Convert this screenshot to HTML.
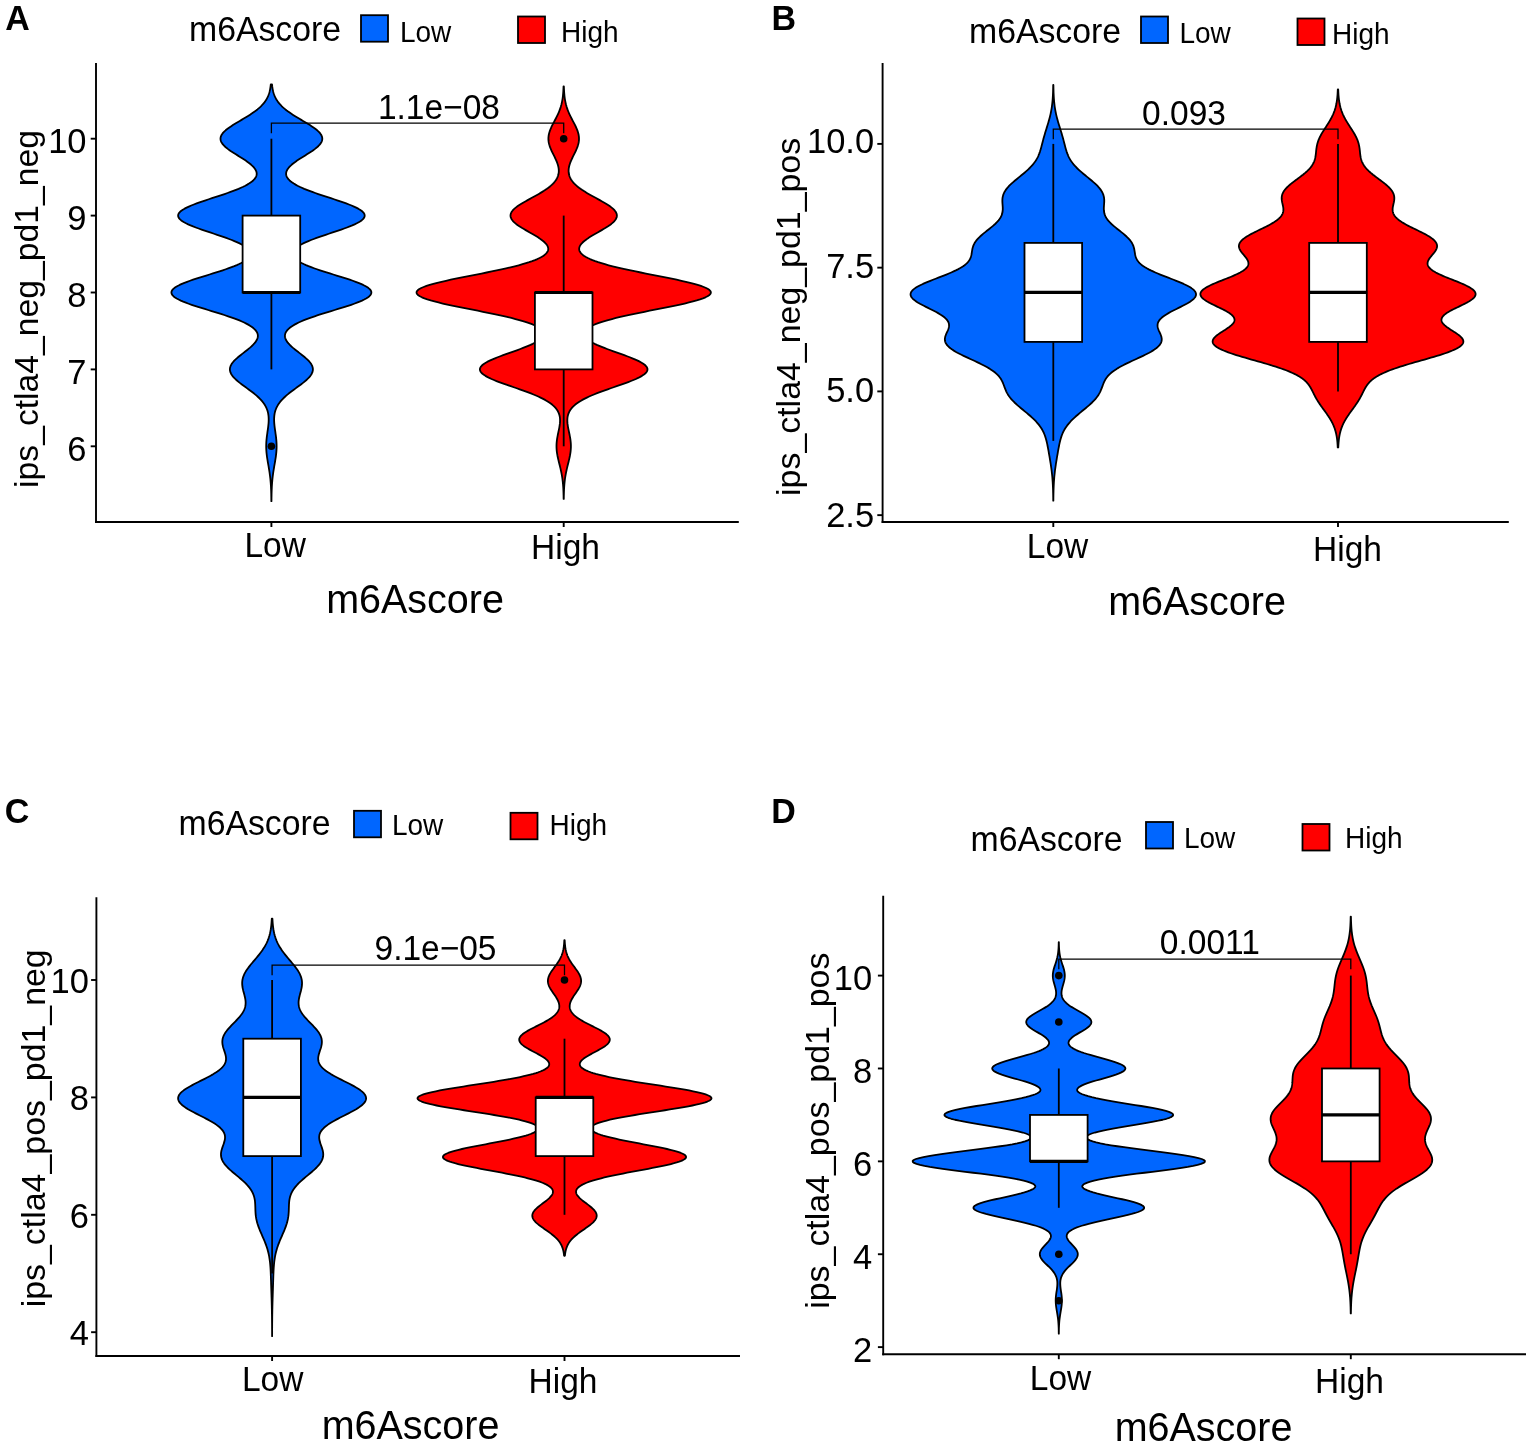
<!DOCTYPE html>
<html><head><meta charset="utf-8"><title>m6Ascore violin plots</title>
<style>
html,body{margin:0;padding:0;background:#fff;}
body{width:1535px;height:1449px;overflow:hidden;}
svg{display:block;font-family:'Liberation Sans', sans-serif;fill:#000;}
</style></head><body>
<svg width="1535" height="1449" viewBox="0 0 1535 1449">
<rect x="0" y="0" width="1535" height="1449" fill="#ffffff"/>
<path d="M271.34,501.19 L271.33,500.15 L271.32,499.10 L271.31,498.06 L271.29,497.01 L271.27,495.97 L271.25,494.92 L271.23,493.88 L271.20,492.83 L271.17,491.79 L271.13,490.74 L271.10,489.70 L271.05,488.65 L271.00,487.61 L270.95,486.56 L270.89,485.52 L270.82,484.48 L270.75,483.43 L270.67,482.39 L270.58,481.34 L270.49,480.30 L270.39,479.25 L270.28,478.21 L270.16,477.16 L270.04,476.12 L269.91,475.07 L269.77,474.03 L269.62,472.98 L269.47,471.94 L269.31,470.89 L269.15,469.85 L268.98,468.80 L268.80,467.76 L268.63,466.72 L268.45,465.67 L268.27,464.63 L268.09,463.58 L267.91,462.54 L267.73,461.49 L267.56,460.45 L267.39,459.40 L267.23,458.36 L267.07,457.31 L266.93,456.27 L266.79,455.22 L266.67,454.18 L266.56,453.13 L266.46,452.09 L266.38,451.04 L266.31,450.00 L266.26,448.96 L266.22,447.91 L266.20,446.87 L266.20,445.82 L266.22,444.78 L266.25,443.73 L266.29,442.69 L266.36,441.64 L266.43,440.60 L266.52,439.55 L266.63,438.51 L266.74,437.46 L266.87,436.42 L267.00,435.37 L267.14,434.33 L267.29,433.28 L267.43,432.24 L267.58,431.19 L267.73,430.15 L267.88,429.11 L268.02,428.06 L268.15,427.02 L268.28,425.97 L268.39,424.93 L268.49,423.88 L268.57,422.84 L268.63,421.79 L268.67,420.75 L268.69,419.70 L268.68,418.66 L268.64,417.61 L268.57,416.57 L268.46,415.52 L268.32,414.48 L268.14,413.43 L267.91,412.39 L267.64,411.35 L267.32,410.30 L266.94,409.26 L266.52,408.21 L266.03,407.17 L265.49,406.12 L264.89,405.08 L264.23,404.03 L263.50,402.99 L262.71,401.94 L261.85,400.90 L260.93,399.85 L259.94,398.81 L258.89,397.76 L257.78,396.72 L256.61,395.67 L255.39,394.63 L254.12,393.58 L252.80,392.54 L251.45,391.50 L250.06,390.45 L248.65,389.41 L247.22,388.36 L245.78,387.32 L244.35,386.27 L242.93,385.23 L241.53,384.18 L240.16,383.14 L238.84,382.09 L237.57,381.05 L236.37,380.00 L235.24,378.96 L234.20,377.91 L233.25,376.87 L232.41,375.82 L231.68,374.78 L231.06,373.74 L230.58,372.69 L230.22,371.65 L229.99,370.60 L229.90,369.56 L229.95,368.51 L230.13,367.47 L230.44,366.42 L230.88,365.38 L231.44,364.33 L232.13,363.29 L232.93,362.24 L233.83,361.20 L234.82,360.15 L235.90,359.11 L237.06,358.06 L238.27,357.02 L239.54,355.97 L240.85,354.93 L242.18,353.89 L243.53,352.84 L244.88,351.80 L246.22,350.75 L247.54,349.71 L248.82,348.66 L250.06,347.62 L251.24,346.57 L252.36,345.53 L253.39,344.48 L254.35,343.44 L255.20,342.39 L255.96,341.35 L256.59,340.30 L257.11,339.26 L257.50,338.21 L257.75,337.17 L257.87,336.13 L257.83,335.08 L257.64,334.04 L257.29,332.99 L256.77,331.95 L256.08,330.90 L255.22,329.86 L254.19,328.81 L252.97,327.77 L251.58,326.72 L250.00,325.68 L248.24,324.63 L246.30,323.59 L244.18,322.54 L241.89,321.50 L239.44,320.45 L236.82,319.41 L234.05,318.36 L231.15,317.32 L228.11,316.28 L224.96,315.23 L221.72,314.19 L218.40,313.14 L215.02,312.10 L211.60,311.05 L208.16,310.01 L204.74,308.96 L201.35,307.92 L198.02,306.87 L194.78,305.83 L191.65,304.78 L188.67,303.74 L185.84,302.69 L183.21,301.65 L180.80,300.60 L178.62,299.56 L176.69,298.52 L175.05,297.47 L173.69,296.43 L172.64,295.38 L171.91,294.34 L171.50,293.29 L171.41,292.25 L171.65,291.20 L172.22,290.16 L173.10,289.11 L174.30,288.07 L175.79,287.02 L177.56,285.98 L179.61,284.93 L181.89,283.89 L184.41,282.84 L187.12,281.80 L190.01,280.75 L193.05,279.71 L196.21,278.67 L199.47,277.62 L202.80,276.58 L206.17,275.53 L209.55,274.49 L212.92,273.44 L216.26,272.40 L219.54,271.35 L222.73,270.31 L225.82,269.26 L228.80,268.22 L231.63,267.17 L234.30,266.13 L236.81,265.08 L239.13,264.04 L241.26,262.99 L243.19,261.95 L244.90,260.91 L246.40,259.86 L247.67,258.82 L248.71,257.77 L249.52,256.73 L250.10,255.68 L250.44,254.64 L250.54,253.59 L250.41,252.55 L250.04,251.50 L249.43,250.46 L248.60,249.41 L247.54,248.37 L246.26,247.32 L244.77,246.28 L243.07,245.23 L241.17,244.19 L239.07,243.14 L236.80,242.10 L234.37,241.06 L231.78,240.01 L229.05,238.97 L226.21,237.92 L223.26,236.88 L220.23,235.83 L217.14,234.79 L214.01,233.74 L210.87,232.70 L207.73,231.65 L204.63,230.61 L201.59,229.56 L198.63,228.52 L195.79,227.47 L193.08,226.43 L190.53,225.38 L188.16,224.34 L186.00,223.30 L184.07,222.25 L182.38,221.21 L180.96,220.16 L179.81,219.12 L178.95,218.07 L178.38,217.03 L178.12,215.98 L178.16,214.94 L178.51,213.89 L179.16,212.85 L180.10,211.80 L181.33,210.76 L182.83,209.71 L184.59,208.67 L186.60,207.62 L188.82,206.58 L191.25,205.53 L193.86,204.49 L196.63,203.45 L199.52,202.40 L202.53,201.36 L205.62,200.31 L208.77,199.27 L211.95,198.22 L215.14,197.18 L218.32,196.13 L221.46,195.09 L224.55,194.04 L227.56,193.00 L230.49,191.95 L233.30,190.91 L235.99,189.86 L238.55,188.82 L240.96,187.77 L243.22,186.73 L245.31,185.69 L247.24,184.64 L248.99,183.60 L250.56,182.55 L251.96,181.51 L253.17,180.46 L254.21,179.42 L255.06,178.37 L255.73,177.33 L256.23,176.28 L256.55,175.24 L256.70,174.19 L256.68,173.15 L256.51,172.10 L256.17,171.06 L255.68,170.01 L255.05,168.97 L254.28,167.92 L253.38,166.88 L252.36,165.84 L251.22,164.79 L249.98,163.75 L248.64,162.70 L247.21,161.66 L245.71,160.61 L244.15,159.57 L242.54,158.52 L240.89,157.48 L239.22,156.43 L237.54,155.39 L235.86,154.34 L234.21,153.30 L232.58,152.25 L231.01,151.21 L229.50,150.16 L228.07,149.12 L226.72,148.08 L225.48,147.03 L224.36,145.99 L223.36,144.94 L222.50,143.90 L221.78,142.85 L221.22,141.81 L220.82,140.76 L220.58,139.72 L220.50,138.67 L220.59,137.63 L220.85,136.58 L221.27,135.54 L221.85,134.49 L222.58,133.45 L223.46,132.40 L224.47,131.36 L225.62,130.31 L226.89,129.27 L228.26,128.23 L229.73,127.18 L231.27,126.14 L232.89,125.09 L234.57,124.05 L236.28,123.00 L238.03,121.96 L239.79,120.91 L241.56,119.87 L243.32,118.82 L245.07,117.78 L246.79,116.73 L248.47,115.69 L250.10,114.64 L251.69,113.60 L253.21,112.55 L254.68,111.51 L256.07,110.47 L257.40,109.42 L258.65,108.38 L259.83,107.33 L260.93,106.29 L261.96,105.24 L262.92,104.20 L263.81,103.15 L264.62,102.11 L265.37,101.06 L266.05,100.02 L266.67,98.97 L267.23,97.93 L267.74,96.88 L268.20,95.84 L268.60,94.79 L268.97,93.75 L269.29,92.70 L269.58,91.66 L269.83,90.62 L270.06,89.57 L270.25,88.53 L270.42,87.48 L270.57,86.44 L270.69,85.39 L270.80,84.35 L272.00,84.35 L272.11,85.39 L272.23,86.44 L272.38,87.48 L272.55,88.53 L272.74,89.57 L272.97,90.62 L273.22,91.66 L273.51,92.70 L273.83,93.75 L274.20,94.79 L274.60,95.84 L275.06,96.88 L275.57,97.93 L276.13,98.97 L276.75,100.02 L277.43,101.06 L278.18,102.11 L278.99,103.15 L279.88,104.20 L280.84,105.24 L281.87,106.29 L282.97,107.33 L284.15,108.38 L285.40,109.42 L286.73,110.47 L288.12,111.51 L289.59,112.55 L291.11,113.60 L292.70,114.64 L294.33,115.69 L296.01,116.73 L297.73,117.78 L299.48,118.82 L301.24,119.87 L303.01,120.91 L304.77,121.96 L306.52,123.00 L308.23,124.05 L309.91,125.09 L311.53,126.14 L313.07,127.18 L314.54,128.23 L315.91,129.27 L317.18,130.31 L318.33,131.36 L319.34,132.40 L320.22,133.45 L320.95,134.49 L321.53,135.54 L321.95,136.58 L322.21,137.63 L322.30,138.67 L322.22,139.72 L321.98,140.76 L321.58,141.81 L321.02,142.85 L320.30,143.90 L319.44,144.94 L318.44,145.99 L317.32,147.03 L316.08,148.08 L314.73,149.12 L313.30,150.16 L311.79,151.21 L310.22,152.25 L308.59,153.30 L306.94,154.34 L305.26,155.39 L303.58,156.43 L301.91,157.48 L300.26,158.52 L298.65,159.57 L297.09,160.61 L295.59,161.66 L294.16,162.70 L292.82,163.75 L291.58,164.79 L290.44,165.84 L289.42,166.88 L288.52,167.92 L287.75,168.97 L287.12,170.01 L286.63,171.06 L286.29,172.10 L286.12,173.15 L286.10,174.19 L286.25,175.24 L286.57,176.28 L287.07,177.33 L287.74,178.37 L288.59,179.42 L289.63,180.46 L290.84,181.51 L292.24,182.55 L293.81,183.60 L295.56,184.64 L297.49,185.69 L299.58,186.73 L301.84,187.77 L304.25,188.82 L306.81,189.86 L309.50,190.91 L312.31,191.95 L315.24,193.00 L318.25,194.04 L321.34,195.09 L324.48,196.13 L327.66,197.18 L330.85,198.22 L334.03,199.27 L337.18,200.31 L340.27,201.36 L343.28,202.40 L346.17,203.45 L348.94,204.49 L351.55,205.53 L353.98,206.58 L356.20,207.62 L358.21,208.67 L359.97,209.71 L361.47,210.76 L362.70,211.80 L363.64,212.85 L364.29,213.89 L364.64,214.94 L364.68,215.98 L364.42,217.03 L363.85,218.07 L362.99,219.12 L361.84,220.16 L360.42,221.21 L358.73,222.25 L356.80,223.30 L354.64,224.34 L352.27,225.38 L349.72,226.43 L347.01,227.47 L344.17,228.52 L341.21,229.56 L338.17,230.61 L335.07,231.65 L331.93,232.70 L328.79,233.74 L325.66,234.79 L322.57,235.83 L319.54,236.88 L316.59,237.92 L313.75,238.97 L311.02,240.01 L308.43,241.06 L306.00,242.10 L303.73,243.14 L301.63,244.19 L299.73,245.23 L298.03,246.28 L296.54,247.32 L295.26,248.37 L294.20,249.41 L293.37,250.46 L292.76,251.50 L292.39,252.55 L292.26,253.59 L292.36,254.64 L292.70,255.68 L293.28,256.73 L294.09,257.77 L295.13,258.82 L296.40,259.86 L297.90,260.91 L299.61,261.95 L301.54,262.99 L303.67,264.04 L305.99,265.08 L308.50,266.13 L311.17,267.17 L314.00,268.22 L316.98,269.26 L320.07,270.31 L323.26,271.35 L326.54,272.40 L329.88,273.44 L333.25,274.49 L336.63,275.53 L340.00,276.58 L343.33,277.62 L346.59,278.67 L349.75,279.71 L352.79,280.75 L355.68,281.80 L358.39,282.84 L360.91,283.89 L363.19,284.93 L365.24,285.98 L367.01,287.02 L368.50,288.07 L369.70,289.11 L370.58,290.16 L371.15,291.20 L371.39,292.25 L371.30,293.29 L370.89,294.34 L370.16,295.38 L369.11,296.43 L367.75,297.47 L366.11,298.52 L364.18,299.56 L362.00,300.60 L359.59,301.65 L356.96,302.69 L354.13,303.74 L351.15,304.78 L348.02,305.83 L344.78,306.87 L341.45,307.92 L338.06,308.96 L334.64,310.01 L331.20,311.05 L327.78,312.10 L324.40,313.14 L321.08,314.19 L317.84,315.23 L314.69,316.28 L311.65,317.32 L308.75,318.36 L305.98,319.41 L303.36,320.45 L300.91,321.50 L298.62,322.54 L296.50,323.59 L294.56,324.63 L292.80,325.68 L291.22,326.72 L289.83,327.77 L288.61,328.81 L287.58,329.86 L286.72,330.90 L286.03,331.95 L285.51,332.99 L285.16,334.04 L284.97,335.08 L284.93,336.13 L285.05,337.17 L285.30,338.21 L285.69,339.26 L286.21,340.30 L286.84,341.35 L287.60,342.39 L288.45,343.44 L289.41,344.48 L290.44,345.53 L291.56,346.57 L292.74,347.62 L293.98,348.66 L295.26,349.71 L296.58,350.75 L297.92,351.80 L299.27,352.84 L300.62,353.89 L301.95,354.93 L303.26,355.97 L304.53,357.02 L305.74,358.06 L306.90,359.11 L307.98,360.15 L308.97,361.20 L309.87,362.24 L310.67,363.29 L311.36,364.33 L311.92,365.38 L312.36,366.42 L312.67,367.47 L312.85,368.51 L312.90,369.56 L312.81,370.60 L312.58,371.65 L312.22,372.69 L311.74,373.74 L311.12,374.78 L310.39,375.82 L309.55,376.87 L308.60,377.91 L307.56,378.96 L306.43,380.00 L305.23,381.05 L303.96,382.09 L302.64,383.14 L301.27,384.18 L299.87,385.23 L298.45,386.27 L297.02,387.32 L295.58,388.36 L294.15,389.41 L292.74,390.45 L291.35,391.50 L290.00,392.54 L288.68,393.58 L287.41,394.63 L286.19,395.67 L285.02,396.72 L283.91,397.76 L282.86,398.81 L281.87,399.85 L280.95,400.90 L280.09,401.94 L279.30,402.99 L278.57,404.03 L277.91,405.08 L277.31,406.12 L276.77,407.17 L276.28,408.21 L275.86,409.26 L275.48,410.30 L275.16,411.35 L274.89,412.39 L274.66,413.43 L274.48,414.48 L274.34,415.52 L274.23,416.57 L274.16,417.61 L274.12,418.66 L274.11,419.70 L274.13,420.75 L274.17,421.79 L274.23,422.84 L274.31,423.88 L274.41,424.93 L274.52,425.97 L274.65,427.02 L274.78,428.06 L274.92,429.11 L275.07,430.15 L275.22,431.19 L275.37,432.24 L275.51,433.28 L275.66,434.33 L275.80,435.37 L275.93,436.42 L276.06,437.46 L276.17,438.51 L276.28,439.55 L276.37,440.60 L276.44,441.64 L276.51,442.69 L276.55,443.73 L276.58,444.78 L276.60,445.82 L276.60,446.87 L276.58,447.91 L276.54,448.96 L276.49,450.00 L276.42,451.04 L276.34,452.09 L276.24,453.13 L276.13,454.18 L276.01,455.22 L275.87,456.27 L275.73,457.31 L275.57,458.36 L275.41,459.40 L275.24,460.45 L275.07,461.49 L274.89,462.54 L274.71,463.58 L274.53,464.63 L274.35,465.67 L274.17,466.72 L274.00,467.76 L273.82,468.80 L273.65,469.85 L273.49,470.89 L273.33,471.94 L273.18,472.98 L273.03,474.03 L272.89,475.07 L272.76,476.12 L272.64,477.16 L272.52,478.21 L272.41,479.25 L272.31,480.30 L272.22,481.34 L272.13,482.39 L272.05,483.43 L271.98,484.48 L271.91,485.52 L271.85,486.56 L271.80,487.61 L271.75,488.65 L271.70,489.70 L271.67,490.74 L271.63,491.79 L271.60,492.83 L271.57,493.88 L271.55,494.92 L271.53,495.97 L271.51,497.01 L271.49,498.06 L271.48,499.10 L271.47,500.15 L271.46,501.19Z" fill="#0066ff" stroke="#000" stroke-width="1.8" stroke-linejoin="round"/>
<path d="M563.62,498.88 L563.60,497.85 L563.59,496.82 L563.57,495.78 L563.54,494.75 L563.51,493.72 L563.48,492.68 L563.45,491.65 L563.40,490.61 L563.36,489.58 L563.31,488.55 L563.25,487.51 L563.18,486.48 L563.10,485.45 L563.02,484.41 L562.93,483.38 L562.83,482.34 L562.72,481.31 L562.60,480.28 L562.47,479.24 L562.33,478.21 L562.17,477.18 L562.01,476.14 L561.83,475.11 L561.65,474.07 L561.45,473.04 L561.24,472.01 L561.03,470.97 L560.80,469.94 L560.57,468.91 L560.32,467.87 L560.08,466.84 L559.82,465.80 L559.57,464.77 L559.31,463.74 L559.06,462.70 L558.80,461.67 L558.55,460.64 L558.30,459.60 L558.07,458.57 L557.84,457.53 L557.63,456.50 L557.42,455.47 L557.24,454.43 L557.07,453.40 L556.92,452.37 L556.79,451.33 L556.69,450.30 L556.61,449.26 L556.55,448.23 L556.51,447.20 L556.50,446.16 L556.51,445.13 L556.55,444.10 L556.61,443.06 L556.70,442.03 L556.81,440.99 L556.94,439.96 L557.08,438.93 L557.25,437.89 L557.43,436.86 L557.62,435.83 L557.82,434.79 L558.03,433.76 L558.25,432.73 L558.46,431.69 L558.68,430.66 L558.89,429.62 L559.10,428.59 L559.30,427.56 L559.48,426.52 L559.64,425.49 L559.78,424.46 L559.90,423.42 L559.99,422.39 L560.05,421.35 L560.06,420.32 L560.04,419.29 L559.97,418.25 L559.85,417.22 L559.67,416.19 L559.43,415.15 L559.12,414.12 L558.74,413.08 L558.28,412.05 L557.74,411.02 L557.11,409.98 L556.37,408.95 L555.54,407.92 L554.60,406.88 L553.54,405.85 L552.37,404.81 L551.07,403.78 L549.64,402.75 L548.08,401.71 L546.39,400.68 L544.57,399.65 L542.61,398.61 L540.52,397.58 L538.29,396.54 L535.95,395.51 L533.48,394.48 L530.90,393.44 L528.22,392.41 L525.45,391.38 L522.60,390.34 L519.69,389.31 L516.73,388.27 L513.75,387.24 L510.75,386.21 L507.78,385.17 L504.84,384.14 L501.96,383.11 L499.16,382.07 L496.47,381.04 L493.91,380.00 L491.50,378.97 L489.27,377.94 L487.24,376.90 L485.42,375.87 L483.84,374.84 L482.51,373.80 L481.44,372.77 L480.64,371.73 L480.13,370.70 L479.91,369.67 L479.98,368.63 L480.34,367.60 L480.98,366.57 L481.90,365.53 L483.09,364.50 L484.54,363.46 L486.22,362.43 L488.13,361.40 L490.25,360.36 L492.55,359.33 L495.01,358.30 L497.60,357.26 L500.31,356.23 L503.11,355.19 L505.96,354.16 L508.86,353.13 L511.77,352.09 L514.66,351.06 L517.52,350.03 L520.32,348.99 L523.04,347.96 L525.66,346.92 L528.17,345.89 L530.54,344.86 L532.76,343.82 L534.81,342.79 L536.68,341.76 L538.36,340.72 L539.83,339.69 L541.09,338.66 L542.12,337.62 L542.92,336.59 L543.48,335.55 L543.79,334.52 L543.84,333.49 L543.63,332.45 L543.15,331.42 L542.40,330.39 L541.36,329.35 L540.05,328.32 L538.45,327.28 L536.56,326.25 L534.39,325.22 L531.92,324.18 L529.18,323.15 L526.15,322.12 L522.84,321.08 L519.27,320.05 L515.44,319.01 L511.36,317.98 L507.06,316.95 L502.55,315.91 L497.85,314.88 L492.99,313.85 L488.00,312.81 L482.90,311.78 L477.73,310.74 L472.53,309.71 L467.32,308.68 L462.16,307.64 L457.08,306.61 L452.13,305.58 L447.34,304.54 L442.77,303.51 L438.44,302.47 L434.41,301.44 L430.70,300.41 L427.37,299.37 L424.43,298.34 L421.92,297.31 L419.86,296.27 L418.28,295.24 L417.19,294.20 L416.61,293.17 L416.53,292.14 L416.97,291.10 L417.91,290.07 L419.34,289.04 L421.26,288.00 L423.64,286.97 L426.46,285.93 L429.68,284.90 L433.28,283.87 L437.23,282.83 L441.48,281.80 L445.99,280.77 L450.72,279.73 L455.64,278.70 L460.70,277.66 L465.85,276.63 L471.06,275.60 L476.29,274.56 L481.50,273.53 L486.65,272.50 L491.71,271.46 L496.65,270.43 L501.45,269.39 L506.07,268.36 L510.50,267.33 L514.72,266.29 L518.71,265.26 L522.46,264.23 L525.96,263.19 L529.20,262.16 L532.19,261.12 L534.91,260.09 L537.36,259.06 L539.56,258.02 L541.49,256.99 L543.17,255.96 L544.59,254.92 L545.77,253.89 L546.72,252.85 L547.43,251.82 L547.91,250.79 L548.19,249.75 L548.25,248.72 L548.12,247.69 L547.80,246.65 L547.29,245.62 L546.62,244.59 L545.79,243.55 L544.80,242.52 L543.68,241.48 L542.42,240.45 L541.05,239.42 L539.58,238.38 L538.01,237.35 L536.37,236.32 L534.66,235.28 L532.90,234.25 L531.10,233.21 L529.29,232.18 L527.48,231.15 L525.68,230.11 L523.91,229.08 L522.18,228.05 L520.53,227.01 L518.95,225.98 L517.46,224.94 L516.09,223.91 L514.84,222.88 L513.73,221.84 L512.77,220.81 L511.97,219.78 L511.34,218.74 L510.88,217.71 L510.60,216.67 L510.50,215.64 L510.59,214.61 L510.86,213.57 L511.31,212.54 L511.94,211.51 L512.73,210.47 L513.69,209.44 L514.80,208.40 L516.05,207.37 L517.43,206.34 L518.92,205.30 L520.52,204.27 L522.20,203.24 L523.96,202.20 L525.77,201.17 L527.62,200.13 L529.50,199.10 L531.39,198.07 L533.28,197.03 L535.15,196.00 L537.00,194.97 L538.81,193.93 L540.57,192.90 L542.27,191.86 L543.91,190.83 L545.47,189.80 L546.96,188.76 L548.36,187.73 L549.67,186.70 L550.90,185.66 L552.03,184.63 L553.07,183.59 L554.02,182.56 L554.88,181.53 L555.64,180.49 L556.32,179.46 L556.91,178.43 L557.41,177.39 L557.83,176.36 L558.17,175.32 L558.44,174.29 L558.63,173.26 L558.75,172.22 L558.80,171.19 L558.79,170.16 L558.72,169.12 L558.59,168.09 L558.41,167.05 L558.18,166.02 L557.90,164.99 L557.58,163.95 L557.23,162.92 L556.83,161.89 L556.41,160.85 L555.96,159.82 L555.48,158.79 L554.99,157.75 L554.49,156.72 L553.98,155.68 L553.46,154.65 L552.95,153.62 L552.44,152.58 L551.94,151.55 L551.46,150.52 L551.00,149.48 L550.56,148.45 L550.15,147.41 L549.78,146.38 L549.45,145.35 L549.15,144.31 L548.91,143.28 L548.70,142.25 L548.55,141.21 L548.45,140.18 L548.40,139.14 L548.41,138.11 L548.47,137.08 L548.58,136.04 L548.74,135.01 L548.95,133.98 L549.21,132.94 L549.51,131.91 L549.85,130.87 L550.24,129.84 L550.65,128.81 L551.10,127.77 L551.58,126.74 L552.08,125.71 L552.59,124.67 L553.12,123.64 L553.66,122.60 L554.21,121.57 L554.76,120.54 L555.30,119.50 L555.84,118.47 L556.37,117.44 L556.89,116.40 L557.39,115.37 L557.88,114.33 L558.34,113.30 L558.79,112.27 L559.22,111.23 L559.62,110.20 L560.00,109.17 L560.35,108.13 L560.69,107.10 L560.99,106.06 L561.28,105.03 L561.54,104.00 L561.78,102.96 L562.00,101.93 L562.20,100.90 L562.38,99.86 L562.55,98.83 L562.69,97.79 L562.82,96.76 L562.94,95.73 L563.04,94.69 L563.14,93.66 L563.22,92.63 L563.29,91.59 L563.35,90.56 L563.40,89.52 L563.45,88.49 L563.49,87.46 L563.52,86.42 L563.88,86.42 L563.91,87.46 L563.95,88.49 L564.00,89.52 L564.05,90.56 L564.11,91.59 L564.18,92.63 L564.26,93.66 L564.36,94.69 L564.46,95.73 L564.58,96.76 L564.71,97.79 L564.85,98.83 L565.02,99.86 L565.20,100.90 L565.40,101.93 L565.62,102.96 L565.86,104.00 L566.12,105.03 L566.41,106.06 L566.71,107.10 L567.05,108.13 L567.40,109.17 L567.78,110.20 L568.18,111.23 L568.61,112.27 L569.06,113.30 L569.52,114.33 L570.01,115.37 L570.51,116.40 L571.03,117.44 L571.56,118.47 L572.10,119.50 L572.64,120.54 L573.19,121.57 L573.74,122.60 L574.28,123.64 L574.81,124.67 L575.32,125.71 L575.82,126.74 L576.30,127.77 L576.75,128.81 L577.16,129.84 L577.55,130.87 L577.89,131.91 L578.19,132.94 L578.45,133.98 L578.66,135.01 L578.82,136.04 L578.93,137.08 L578.99,138.11 L579.00,139.14 L578.95,140.18 L578.85,141.21 L578.70,142.25 L578.49,143.28 L578.25,144.31 L577.95,145.35 L577.62,146.38 L577.25,147.41 L576.84,148.45 L576.40,149.48 L575.94,150.52 L575.46,151.55 L574.96,152.58 L574.45,153.62 L573.94,154.65 L573.42,155.68 L572.91,156.72 L572.41,157.75 L571.92,158.79 L571.44,159.82 L570.99,160.85 L570.57,161.89 L570.17,162.92 L569.82,163.95 L569.50,164.99 L569.22,166.02 L568.99,167.05 L568.81,168.09 L568.68,169.12 L568.61,170.16 L568.60,171.19 L568.65,172.22 L568.77,173.26 L568.96,174.29 L569.23,175.32 L569.57,176.36 L569.99,177.39 L570.49,178.43 L571.08,179.46 L571.76,180.49 L572.52,181.53 L573.38,182.56 L574.33,183.59 L575.37,184.63 L576.50,185.66 L577.73,186.70 L579.04,187.73 L580.44,188.76 L581.93,189.80 L583.49,190.83 L585.13,191.86 L586.83,192.90 L588.59,193.93 L590.40,194.97 L592.25,196.00 L594.12,197.03 L596.01,198.07 L597.90,199.10 L599.78,200.13 L601.63,201.17 L603.44,202.20 L605.20,203.24 L606.88,204.27 L608.48,205.30 L609.97,206.34 L611.35,207.37 L612.60,208.40 L613.71,209.44 L614.67,210.47 L615.46,211.51 L616.09,212.54 L616.54,213.57 L616.81,214.61 L616.90,215.64 L616.80,216.67 L616.52,217.71 L616.06,218.74 L615.43,219.78 L614.63,220.81 L613.67,221.84 L612.56,222.88 L611.31,223.91 L609.94,224.94 L608.45,225.98 L606.87,227.01 L605.22,228.05 L603.49,229.08 L601.72,230.11 L599.92,231.15 L598.11,232.18 L596.30,233.21 L594.50,234.25 L592.74,235.28 L591.03,236.32 L589.39,237.35 L587.82,238.38 L586.35,239.42 L584.98,240.45 L583.72,241.48 L582.60,242.52 L581.61,243.55 L580.78,244.59 L580.11,245.62 L579.60,246.65 L579.28,247.69 L579.15,248.72 L579.21,249.75 L579.49,250.79 L579.97,251.82 L580.68,252.85 L581.63,253.89 L582.81,254.92 L584.23,255.96 L585.91,256.99 L587.84,258.02 L590.04,259.06 L592.49,260.09 L595.21,261.12 L598.20,262.16 L601.44,263.19 L604.94,264.23 L608.69,265.26 L612.68,266.29 L616.90,267.33 L621.33,268.36 L625.95,269.39 L630.75,270.43 L635.69,271.46 L640.75,272.50 L645.90,273.53 L651.11,274.56 L656.34,275.60 L661.55,276.63 L666.70,277.66 L671.76,278.70 L676.68,279.73 L681.41,280.77 L685.92,281.80 L690.17,282.83 L694.12,283.87 L697.72,284.90 L700.94,285.93 L703.76,286.97 L706.14,288.00 L708.06,289.04 L709.49,290.07 L710.43,291.10 L710.87,292.14 L710.79,293.17 L710.21,294.20 L709.12,295.24 L707.54,296.27 L705.48,297.31 L702.97,298.34 L700.03,299.37 L696.70,300.41 L692.99,301.44 L688.96,302.47 L684.63,303.51 L680.06,304.54 L675.27,305.58 L670.32,306.61 L665.24,307.64 L660.08,308.68 L654.87,309.71 L649.67,310.74 L644.50,311.78 L639.40,312.81 L634.41,313.85 L629.55,314.88 L624.85,315.91 L620.34,316.95 L616.04,317.98 L611.96,319.01 L608.13,320.05 L604.56,321.08 L601.25,322.12 L598.22,323.15 L595.48,324.18 L593.01,325.22 L590.84,326.25 L588.95,327.28 L587.35,328.32 L586.04,329.35 L585.00,330.39 L584.25,331.42 L583.77,332.45 L583.56,333.49 L583.61,334.52 L583.92,335.55 L584.48,336.59 L585.28,337.62 L586.31,338.66 L587.57,339.69 L589.04,340.72 L590.72,341.76 L592.59,342.79 L594.64,343.82 L596.86,344.86 L599.23,345.89 L601.74,346.92 L604.36,347.96 L607.08,348.99 L609.88,350.03 L612.74,351.06 L615.63,352.09 L618.54,353.13 L621.44,354.16 L624.29,355.19 L627.09,356.23 L629.80,357.26 L632.39,358.30 L634.85,359.33 L637.15,360.36 L639.27,361.40 L641.18,362.43 L642.86,363.46 L644.31,364.50 L645.50,365.53 L646.42,366.57 L647.06,367.60 L647.42,368.63 L647.49,369.67 L647.27,370.70 L646.76,371.73 L645.96,372.77 L644.89,373.80 L643.56,374.84 L641.98,375.87 L640.16,376.90 L638.13,377.94 L635.90,378.97 L633.49,380.00 L630.93,381.04 L628.24,382.07 L625.44,383.11 L622.56,384.14 L619.62,385.17 L616.65,386.21 L613.65,387.24 L610.67,388.27 L607.71,389.31 L604.80,390.34 L601.95,391.38 L599.18,392.41 L596.50,393.44 L593.92,394.48 L591.45,395.51 L589.11,396.54 L586.88,397.58 L584.79,398.61 L582.83,399.65 L581.01,400.68 L579.32,401.71 L577.76,402.75 L576.33,403.78 L575.03,404.81 L573.86,405.85 L572.80,406.88 L571.86,407.92 L571.03,408.95 L570.29,409.98 L569.66,411.02 L569.12,412.05 L568.66,413.08 L568.28,414.12 L567.97,415.15 L567.73,416.19 L567.55,417.22 L567.43,418.25 L567.36,419.29 L567.34,420.32 L567.35,421.35 L567.41,422.39 L567.50,423.42 L567.62,424.46 L567.76,425.49 L567.92,426.52 L568.10,427.56 L568.30,428.59 L568.51,429.62 L568.72,430.66 L568.94,431.69 L569.15,432.73 L569.37,433.76 L569.58,434.79 L569.78,435.83 L569.97,436.86 L570.15,437.89 L570.32,438.93 L570.46,439.96 L570.59,440.99 L570.70,442.03 L570.79,443.06 L570.85,444.10 L570.89,445.13 L570.90,446.16 L570.89,447.20 L570.85,448.23 L570.79,449.26 L570.71,450.30 L570.61,451.33 L570.48,452.37 L570.33,453.40 L570.16,454.43 L569.98,455.47 L569.77,456.50 L569.56,457.53 L569.33,458.57 L569.10,459.60 L568.85,460.64 L568.60,461.67 L568.34,462.70 L568.09,463.74 L567.83,464.77 L567.58,465.80 L567.32,466.84 L567.08,467.87 L566.83,468.91 L566.60,469.94 L566.37,470.97 L566.16,472.01 L565.95,473.04 L565.75,474.07 L565.57,475.11 L565.39,476.14 L565.23,477.18 L565.07,478.21 L564.93,479.24 L564.80,480.28 L564.68,481.31 L564.57,482.34 L564.47,483.38 L564.38,484.41 L564.30,485.45 L564.22,486.48 L564.15,487.51 L564.09,488.55 L564.04,489.58 L564.00,490.61 L563.95,491.65 L563.92,492.68 L563.89,493.72 L563.86,494.75 L563.83,495.78 L563.81,496.82 L563.80,497.85 L563.78,498.88Z" fill="#ff0000" stroke="#000" stroke-width="1.8" stroke-linejoin="round"/>
<line x1="96.00" y1="63.00" x2="96.00" y2="522.95" stroke="#000" stroke-width="1.9" stroke-linecap="butt"/>
<line x1="95.05" y1="522.00" x2="738.80" y2="522.00" stroke="#000" stroke-width="1.9" stroke-linecap="butt"/>
<line x1="90.70" y1="446.30" x2="96.00" y2="446.30" stroke="#000" stroke-width="1.9" stroke-linecap="butt"/>
<text transform="translate(86.50 460.80) scale(1 1.04)" font-size="34.5" text-anchor="end" font-weight="normal">6</text>
<line x1="90.70" y1="369.40" x2="96.00" y2="369.40" stroke="#000" stroke-width="1.9" stroke-linecap="butt"/>
<text transform="translate(86.50 383.90) scale(1 1.04)" font-size="34.5" text-anchor="end" font-weight="normal">7</text>
<line x1="90.70" y1="292.50" x2="96.00" y2="292.50" stroke="#000" stroke-width="1.9" stroke-linecap="butt"/>
<text transform="translate(86.50 307.00) scale(1 1.04)" font-size="34.5" text-anchor="end" font-weight="normal">8</text>
<line x1="90.70" y1="215.60" x2="96.00" y2="215.60" stroke="#000" stroke-width="1.9" stroke-linecap="butt"/>
<text transform="translate(86.50 230.10) scale(1 1.04)" font-size="34.5" text-anchor="end" font-weight="normal">9</text>
<line x1="90.70" y1="138.70" x2="96.00" y2="138.70" stroke="#000" stroke-width="1.9" stroke-linecap="butt"/>
<text transform="translate(86.50 153.20) scale(1 1.04)" font-size="34.5" text-anchor="end" font-weight="normal">10</text>
<line x1="271.40" y1="522.00" x2="271.40" y2="527.00" stroke="#000" stroke-width="1.9" stroke-linecap="butt"/>
<line x1="563.70" y1="522.00" x2="563.70" y2="527.00" stroke="#000" stroke-width="1.9" stroke-linecap="butt"/>
<line x1="271.40" y1="138.70" x2="271.40" y2="215.60" stroke="#000" stroke-width="1.8" stroke-linecap="butt"/>
<line x1="271.40" y1="292.50" x2="271.40" y2="369.40" stroke="#000" stroke-width="1.8" stroke-linecap="butt"/>
<rect x="242.60" y="215.60" width="57.60" height="76.90" fill="#fff" stroke="#000" stroke-width="1.8"/>
<line x1="242.60" y1="292.50" x2="300.20" y2="292.50" stroke="#000" stroke-width="3.2" stroke-linecap="butt"/>
<circle cx="271.40" cy="446.30" r="3.8" fill="#000"/>
<line x1="563.70" y1="215.60" x2="563.70" y2="292.50" stroke="#000" stroke-width="1.8" stroke-linecap="butt"/>
<line x1="563.70" y1="369.40" x2="563.70" y2="446.30" stroke="#000" stroke-width="1.8" stroke-linecap="butt"/>
<rect x="534.90" y="292.50" width="57.60" height="76.90" fill="#fff" stroke="#000" stroke-width="1.8"/>
<line x1="534.90" y1="292.50" x2="592.50" y2="292.50" stroke="#000" stroke-width="3.2" stroke-linecap="butt"/>
<circle cx="563.70" cy="138.70" r="3.8" fill="#000"/>
<path d="M271.40,133.20 L271.40,123.20 L563.70,123.20 L563.70,133.20" fill="none" stroke="#000" stroke-width="1.3"/>
<text transform="translate(438.90 119.20) scale(1 1.04)" font-size="33.5" text-anchor="middle" font-weight="normal">1.1e−08</text>
<text transform="translate(5.20 30.00) scale(1 1.01)" font-size="34" text-anchor="start" font-weight="bold">A</text>
<text transform="translate(189.00 40.80) scale(1 1.04)" font-size="33.8" text-anchor="start" font-weight="normal">m6Ascore</text>
<text transform="translate(400.00 41.70) scale(1 1.04)" font-size="28" text-anchor="start" font-weight="normal">Low</text>
<text transform="translate(561.00 41.70) scale(1 1.04)" font-size="28" text-anchor="start" font-weight="normal">High</text>
<text transform="translate(275.10 557.00) scale(1 1.04)" font-size="33.5" text-anchor="middle" font-weight="normal">Low</text>
<text transform="translate(565.50 558.80) scale(1 1.04)" font-size="33.5" text-anchor="middle" font-weight="normal">High</text>
<text transform="translate(415.00 613.00) scale(1 1.02)" font-size="39.5" text-anchor="middle" font-weight="normal">m6Ascore</text>
<text transform="translate(37.50 309.00) rotate(-90)" font-size="33.7" text-anchor="middle" font-weight="normal">ips_ctla4_neg_pd1_neg</text>
<rect x="361.00" y="15.20" width="27.00" height="26.50" fill="#0066ff" stroke="#000" stroke-width="1.8"/>
<rect x="518.00" y="16.50" width="27.00" height="26.50" fill="#ff0000" stroke="#000" stroke-width="1.8"/>
<path d="M1053.24,500.69 L1053.23,499.65 L1053.22,498.61 L1053.21,497.57 L1053.19,496.52 L1053.18,495.48 L1053.16,494.44 L1053.14,493.40 L1053.11,492.36 L1053.08,491.31 L1053.06,490.27 L1053.02,489.23 L1052.99,488.19 L1052.94,487.14 L1052.90,486.10 L1052.85,485.06 L1052.80,484.02 L1052.74,482.98 L1052.68,481.93 L1052.61,480.89 L1052.53,479.85 L1052.45,478.81 L1052.37,477.77 L1052.28,476.72 L1052.18,475.68 L1052.07,474.64 L1051.96,473.60 L1051.85,472.56 L1051.73,471.51 L1051.60,470.47 L1051.47,469.43 L1051.33,468.39 L1051.18,467.35 L1051.04,466.30 L1050.88,465.26 L1050.73,464.22 L1050.57,463.18 L1050.40,462.13 L1050.24,461.09 L1050.07,460.05 L1049.89,459.01 L1049.72,457.97 L1049.55,456.92 L1049.37,455.88 L1049.19,454.84 L1049.01,453.80 L1048.83,452.76 L1048.65,451.71 L1048.47,450.67 L1048.28,449.63 L1048.10,448.59 L1047.90,447.55 L1047.70,446.50 L1047.50,445.46 L1047.29,444.42 L1047.06,443.38 L1046.83,442.34 L1046.58,441.29 L1046.32,440.25 L1046.04,439.21 L1045.74,438.17 L1045.41,437.12 L1045.06,436.08 L1044.68,435.04 L1044.27,434.00 L1043.82,432.96 L1043.34,431.91 L1042.82,430.87 L1042.25,429.83 L1041.64,428.79 L1040.99,427.75 L1040.28,426.70 L1039.53,425.66 L1038.73,424.62 L1037.88,423.58 L1036.98,422.54 L1036.04,421.49 L1035.04,420.45 L1034.00,419.41 L1032.92,418.37 L1031.80,417.33 L1030.64,416.28 L1029.45,415.24 L1028.23,414.20 L1027.00,413.16 L1025.74,412.11 L1024.48,411.07 L1023.21,410.03 L1021.95,408.99 L1020.70,407.95 L1019.46,406.90 L1018.24,405.86 L1017.06,404.82 L1015.91,403.78 L1014.80,402.74 L1013.74,401.69 L1012.73,400.65 L1011.77,399.61 L1010.87,398.57 L1010.03,397.53 L1009.25,396.48 L1008.53,395.44 L1007.86,394.40 L1007.26,393.36 L1006.70,392.32 L1006.19,391.27 L1005.72,390.23 L1005.29,389.19 L1004.88,388.15 L1004.49,387.10 L1004.11,386.06 L1003.72,385.02 L1003.33,383.98 L1002.90,382.94 L1002.45,381.89 L1001.94,380.85 L1001.38,379.81 L1000.75,378.77 L1000.04,377.73 L999.25,376.68 L998.36,375.64 L997.36,374.60 L996.26,373.56 L995.05,372.52 L993.72,371.47 L992.27,370.43 L990.71,369.39 L989.04,368.35 L987.26,367.31 L985.38,366.26 L983.41,365.22 L981.35,364.18 L979.23,363.14 L977.04,362.09 L974.81,361.05 L972.56,360.01 L970.29,358.97 L968.03,357.93 L965.79,356.88 L963.59,355.84 L961.45,354.80 L959.39,353.76 L957.42,352.72 L955.56,351.67 L953.82,350.63 L952.21,349.59 L950.75,348.55 L949.45,347.51 L948.31,346.46 L947.33,345.42 L946.52,344.38 L945.87,343.34 L945.39,342.30 L945.07,341.25 L944.90,340.21 L944.86,339.17 L944.95,338.13 L945.15,337.08 L945.45,336.04 L945.82,335.00 L946.24,333.96 L946.70,332.92 L947.18,331.87 L947.64,330.83 L948.07,329.79 L948.44,328.75 L948.75,327.71 L948.95,326.66 L949.05,325.62 L949.02,324.58 L948.85,323.54 L948.52,322.50 L948.03,321.45 L947.37,320.41 L946.53,319.37 L945.52,318.33 L944.35,317.29 L943.00,316.24 L941.51,315.20 L939.87,314.16 L938.10,313.12 L936.22,312.07 L934.25,311.03 L932.21,309.99 L930.13,308.95 L928.02,307.91 L925.93,306.86 L923.87,305.82 L921.87,304.78 L919.95,303.74 L918.16,302.70 L916.50,301.65 L915.01,300.61 L913.70,299.57 L912.60,298.53 L911.72,297.49 L911.08,296.44 L910.68,295.40 L910.55,294.36 L910.68,293.32 L911.07,292.27 L911.73,291.23 L912.65,290.19 L913.82,289.15 L915.22,288.11 L916.86,287.06 L918.70,286.02 L920.73,284.98 L922.93,283.94 L925.28,282.90 L927.75,281.85 L930.32,280.81 L932.95,279.77 L935.64,278.73 L938.34,277.69 L941.03,276.64 L943.69,275.60 L946.30,274.56 L948.84,273.52 L951.28,272.48 L953.61,271.43 L955.81,270.39 L957.88,269.35 L959.79,268.31 L961.55,267.26 L963.15,266.22 L964.59,265.18 L965.86,264.14 L966.98,263.10 L967.95,262.05 L968.78,261.01 L969.47,259.97 L970.04,258.93 L970.51,257.89 L970.88,256.84 L971.18,255.80 L971.42,254.76 L971.61,253.72 L971.78,252.68 L971.94,251.63 L972.10,250.59 L972.28,249.55 L972.50,248.51 L972.76,247.47 L973.08,246.42 L973.47,245.38 L973.93,244.34 L974.48,243.30 L975.10,242.25 L975.82,241.21 L976.62,240.17 L977.51,239.13 L978.47,238.09 L979.52,237.04 L980.63,236.00 L981.80,234.96 L983.03,233.92 L984.29,232.88 L985.59,231.83 L986.90,230.79 L988.23,229.75 L989.54,228.71 L990.84,227.67 L992.11,226.62 L993.33,225.58 L994.51,224.54 L995.63,223.50 L996.67,222.46 L997.65,221.41 L998.54,220.37 L999.34,219.33 L1000.06,218.29 L1000.68,217.24 L1001.22,216.20 L1001.67,215.16 L1002.03,214.12 L1002.31,213.08 L1002.52,212.03 L1002.66,210.99 L1002.73,209.95 L1002.76,208.91 L1002.75,207.87 L1002.70,206.82 L1002.63,205.78 L1002.56,204.74 L1002.48,203.70 L1002.42,202.66 L1002.37,201.61 L1002.36,200.57 L1002.39,199.53 L1002.47,198.49 L1002.61,197.45 L1002.82,196.40 L1003.09,195.36 L1003.44,194.32 L1003.86,193.28 L1004.37,192.23 L1004.95,191.19 L1005.62,190.15 L1006.37,189.11 L1007.19,188.07 L1008.09,187.02 L1009.06,185.98 L1010.09,184.94 L1011.18,183.90 L1012.32,182.86 L1013.51,181.81 L1014.73,180.77 L1015.97,179.73 L1017.24,178.69 L1018.52,177.65 L1019.81,176.60 L1021.09,175.56 L1022.36,174.52 L1023.61,173.48 L1024.84,172.44 L1026.04,171.39 L1027.20,170.35 L1028.32,169.31 L1029.40,168.27 L1030.43,167.22 L1031.41,166.18 L1032.34,165.14 L1033.21,164.10 L1034.03,163.06 L1034.80,162.01 L1035.52,160.97 L1036.18,159.93 L1036.80,158.89 L1037.36,157.85 L1037.89,156.80 L1038.37,155.76 L1038.82,154.72 L1039.24,153.68 L1039.62,152.64 L1039.98,151.59 L1040.31,150.55 L1040.63,149.51 L1040.93,148.47 L1041.21,147.43 L1041.49,146.38 L1041.76,145.34 L1042.03,144.30 L1042.30,143.26 L1042.56,142.21 L1042.83,141.17 L1043.10,140.13 L1043.38,139.09 L1043.66,138.05 L1043.95,137.00 L1044.25,135.96 L1044.55,134.92 L1044.85,133.88 L1045.16,132.84 L1045.48,131.79 L1045.80,130.75 L1046.12,129.71 L1046.45,128.67 L1046.77,127.63 L1047.10,126.58 L1047.42,125.54 L1047.74,124.50 L1048.05,123.46 L1048.36,122.42 L1048.67,121.37 L1048.96,120.33 L1049.25,119.29 L1049.53,118.25 L1049.80,117.20 L1050.06,116.16 L1050.30,115.12 L1050.54,114.08 L1050.76,113.04 L1050.97,111.99 L1051.17,110.95 L1051.36,109.91 L1051.54,108.87 L1051.70,107.83 L1051.86,106.78 L1052.00,105.74 L1052.13,104.70 L1052.25,103.66 L1052.36,102.62 L1052.46,101.57 L1052.56,100.53 L1052.64,99.49 L1052.72,98.45 L1052.79,97.41 L1052.85,96.36 L1052.90,95.32 L1052.95,94.28 L1053.00,93.24 L1053.04,92.19 L1053.07,91.15 L1053.10,90.11 L1053.13,89.07 L1053.15,88.03 L1053.17,86.98 L1053.19,85.94 L1053.21,84.90 L1053.39,84.90 L1053.41,85.94 L1053.43,86.98 L1053.45,88.03 L1053.47,89.07 L1053.50,90.11 L1053.53,91.15 L1053.56,92.19 L1053.60,93.24 L1053.65,94.28 L1053.70,95.32 L1053.75,96.36 L1053.81,97.41 L1053.88,98.45 L1053.96,99.49 L1054.04,100.53 L1054.14,101.57 L1054.24,102.62 L1054.35,103.66 L1054.47,104.70 L1054.60,105.74 L1054.74,106.78 L1054.90,107.83 L1055.06,108.87 L1055.24,109.91 L1055.43,110.95 L1055.63,111.99 L1055.84,113.04 L1056.06,114.08 L1056.30,115.12 L1056.54,116.16 L1056.80,117.20 L1057.07,118.25 L1057.35,119.29 L1057.64,120.33 L1057.93,121.37 L1058.24,122.42 L1058.55,123.46 L1058.86,124.50 L1059.18,125.54 L1059.50,126.58 L1059.83,127.63 L1060.15,128.67 L1060.48,129.71 L1060.80,130.75 L1061.12,131.79 L1061.44,132.84 L1061.75,133.88 L1062.05,134.92 L1062.35,135.96 L1062.65,137.00 L1062.94,138.05 L1063.22,139.09 L1063.50,140.13 L1063.77,141.17 L1064.04,142.21 L1064.30,143.26 L1064.57,144.30 L1064.84,145.34 L1065.11,146.38 L1065.39,147.43 L1065.67,148.47 L1065.97,149.51 L1066.29,150.55 L1066.62,151.59 L1066.98,152.64 L1067.36,153.68 L1067.78,154.72 L1068.23,155.76 L1068.71,156.80 L1069.24,157.85 L1069.80,158.89 L1070.42,159.93 L1071.08,160.97 L1071.80,162.01 L1072.57,163.06 L1073.39,164.10 L1074.26,165.14 L1075.19,166.18 L1076.17,167.22 L1077.20,168.27 L1078.28,169.31 L1079.40,170.35 L1080.56,171.39 L1081.76,172.44 L1082.99,173.48 L1084.24,174.52 L1085.51,175.56 L1086.79,176.60 L1088.08,177.65 L1089.36,178.69 L1090.63,179.73 L1091.87,180.77 L1093.09,181.81 L1094.28,182.86 L1095.42,183.90 L1096.51,184.94 L1097.54,185.98 L1098.51,187.02 L1099.41,188.07 L1100.23,189.11 L1100.98,190.15 L1101.65,191.19 L1102.23,192.23 L1102.74,193.28 L1103.16,194.32 L1103.51,195.36 L1103.78,196.40 L1103.99,197.45 L1104.13,198.49 L1104.21,199.53 L1104.24,200.57 L1104.23,201.61 L1104.18,202.66 L1104.12,203.70 L1104.04,204.74 L1103.97,205.78 L1103.90,206.82 L1103.85,207.87 L1103.84,208.91 L1103.87,209.95 L1103.94,210.99 L1104.08,212.03 L1104.29,213.08 L1104.57,214.12 L1104.93,215.16 L1105.38,216.20 L1105.92,217.24 L1106.54,218.29 L1107.26,219.33 L1108.06,220.37 L1108.95,221.41 L1109.93,222.46 L1110.97,223.50 L1112.09,224.54 L1113.27,225.58 L1114.49,226.62 L1115.76,227.67 L1117.06,228.71 L1118.37,229.75 L1119.70,230.79 L1121.01,231.83 L1122.31,232.88 L1123.57,233.92 L1124.80,234.96 L1125.97,236.00 L1127.08,237.04 L1128.13,238.09 L1129.09,239.13 L1129.98,240.17 L1130.78,241.21 L1131.50,242.25 L1132.12,243.30 L1132.67,244.34 L1133.13,245.38 L1133.52,246.42 L1133.84,247.47 L1134.10,248.51 L1134.32,249.55 L1134.50,250.59 L1134.66,251.63 L1134.82,252.68 L1134.99,253.72 L1135.18,254.76 L1135.42,255.80 L1135.72,256.84 L1136.09,257.89 L1136.56,258.93 L1137.13,259.97 L1137.82,261.01 L1138.65,262.05 L1139.62,263.10 L1140.74,264.14 L1142.01,265.18 L1143.45,266.22 L1145.05,267.26 L1146.81,268.31 L1148.72,269.35 L1150.79,270.39 L1152.99,271.43 L1155.32,272.48 L1157.76,273.52 L1160.30,274.56 L1162.91,275.60 L1165.57,276.64 L1168.26,277.69 L1170.96,278.73 L1173.65,279.77 L1176.28,280.81 L1178.85,281.85 L1181.32,282.90 L1183.67,283.94 L1185.87,284.98 L1187.90,286.02 L1189.74,287.06 L1191.38,288.11 L1192.78,289.15 L1193.95,290.19 L1194.87,291.23 L1195.53,292.27 L1195.92,293.32 L1196.05,294.36 L1195.92,295.40 L1195.52,296.44 L1194.88,297.49 L1194.00,298.53 L1192.90,299.57 L1191.59,300.61 L1190.10,301.65 L1188.44,302.70 L1186.65,303.74 L1184.73,304.78 L1182.73,305.82 L1180.67,306.86 L1178.58,307.91 L1176.47,308.95 L1174.39,309.99 L1172.35,311.03 L1170.38,312.07 L1168.50,313.12 L1166.73,314.16 L1165.09,315.20 L1163.60,316.24 L1162.25,317.29 L1161.08,318.33 L1160.07,319.37 L1159.23,320.41 L1158.57,321.45 L1158.08,322.50 L1157.75,323.54 L1157.58,324.58 L1157.55,325.62 L1157.65,326.66 L1157.85,327.71 L1158.16,328.75 L1158.53,329.79 L1158.96,330.83 L1159.42,331.87 L1159.90,332.92 L1160.36,333.96 L1160.78,335.00 L1161.15,336.04 L1161.45,337.08 L1161.65,338.13 L1161.74,339.17 L1161.70,340.21 L1161.53,341.25 L1161.21,342.30 L1160.73,343.34 L1160.08,344.38 L1159.27,345.42 L1158.29,346.46 L1157.15,347.51 L1155.85,348.55 L1154.39,349.59 L1152.78,350.63 L1151.04,351.67 L1149.18,352.72 L1147.21,353.76 L1145.15,354.80 L1143.01,355.84 L1140.81,356.88 L1138.57,357.93 L1136.31,358.97 L1134.04,360.01 L1131.79,361.05 L1129.56,362.09 L1127.37,363.14 L1125.25,364.18 L1123.19,365.22 L1121.22,366.26 L1119.34,367.31 L1117.56,368.35 L1115.89,369.39 L1114.33,370.43 L1112.88,371.47 L1111.55,372.52 L1110.34,373.56 L1109.24,374.60 L1108.24,375.64 L1107.35,376.68 L1106.56,377.73 L1105.85,378.77 L1105.22,379.81 L1104.66,380.85 L1104.15,381.89 L1103.70,382.94 L1103.27,383.98 L1102.88,385.02 L1102.49,386.06 L1102.11,387.10 L1101.72,388.15 L1101.31,389.19 L1100.88,390.23 L1100.41,391.27 L1099.90,392.32 L1099.34,393.36 L1098.74,394.40 L1098.07,395.44 L1097.35,396.48 L1096.57,397.53 L1095.73,398.57 L1094.83,399.61 L1093.87,400.65 L1092.86,401.69 L1091.80,402.74 L1090.69,403.78 L1089.54,404.82 L1088.36,405.86 L1087.14,406.90 L1085.90,407.95 L1084.65,408.99 L1083.39,410.03 L1082.12,411.07 L1080.86,412.11 L1079.60,413.16 L1078.37,414.20 L1077.15,415.24 L1075.96,416.28 L1074.80,417.33 L1073.68,418.37 L1072.60,419.41 L1071.56,420.45 L1070.56,421.49 L1069.62,422.54 L1068.72,423.58 L1067.87,424.62 L1067.07,425.66 L1066.32,426.70 L1065.61,427.75 L1064.96,428.79 L1064.35,429.83 L1063.78,430.87 L1063.26,431.91 L1062.78,432.96 L1062.33,434.00 L1061.92,435.04 L1061.54,436.08 L1061.19,437.12 L1060.86,438.17 L1060.56,439.21 L1060.28,440.25 L1060.02,441.29 L1059.77,442.34 L1059.54,443.38 L1059.31,444.42 L1059.10,445.46 L1058.90,446.50 L1058.70,447.55 L1058.50,448.59 L1058.32,449.63 L1058.13,450.67 L1057.95,451.71 L1057.77,452.76 L1057.59,453.80 L1057.41,454.84 L1057.23,455.88 L1057.05,456.92 L1056.88,457.97 L1056.71,459.01 L1056.53,460.05 L1056.36,461.09 L1056.20,462.13 L1056.03,463.18 L1055.87,464.22 L1055.72,465.26 L1055.56,466.30 L1055.42,467.35 L1055.27,468.39 L1055.13,469.43 L1055.00,470.47 L1054.87,471.51 L1054.75,472.56 L1054.64,473.60 L1054.53,474.64 L1054.42,475.68 L1054.32,476.72 L1054.23,477.77 L1054.15,478.81 L1054.07,479.85 L1053.99,480.89 L1053.92,481.93 L1053.86,482.98 L1053.80,484.02 L1053.75,485.06 L1053.70,486.10 L1053.66,487.14 L1053.61,488.19 L1053.58,489.23 L1053.54,490.27 L1053.52,491.31 L1053.49,492.36 L1053.46,493.40 L1053.44,494.44 L1053.42,495.48 L1053.41,496.52 L1053.39,497.57 L1053.38,498.61 L1053.37,499.65 L1053.36,500.69Z" fill="#0066ff" stroke="#000" stroke-width="1.8" stroke-linejoin="round"/>
<path d="M1337.72,447.43 L1337.68,446.53 L1337.63,445.64 L1337.58,444.74 L1337.52,443.84 L1337.45,442.94 L1337.38,442.05 L1337.29,441.15 L1337.20,440.25 L1337.09,439.36 L1336.98,438.46 L1336.85,437.56 L1336.71,436.66 L1336.55,435.77 L1336.38,434.87 L1336.20,433.97 L1335.99,433.08 L1335.77,432.18 L1335.54,431.28 L1335.28,430.38 L1335.00,429.49 L1334.70,428.59 L1334.38,427.69 L1334.04,426.79 L1333.68,425.90 L1333.29,425.00 L1332.89,424.10 L1332.46,423.21 L1332.00,422.31 L1331.53,421.41 L1331.03,420.51 L1330.51,419.62 L1329.97,418.72 L1329.42,417.82 L1328.84,416.93 L1328.25,416.03 L1327.64,415.13 L1327.03,414.23 L1326.39,413.34 L1325.75,412.44 L1325.11,411.54 L1324.45,410.65 L1323.80,409.75 L1323.14,408.85 L1322.49,407.95 L1321.84,407.06 L1321.20,406.16 L1320.57,405.26 L1319.94,404.37 L1319.33,403.47 L1318.74,402.57 L1318.16,401.67 L1317.59,400.78 L1317.04,399.88 L1316.51,398.98 L1316.00,398.08 L1315.50,397.19 L1315.02,396.29 L1314.55,395.39 L1314.10,394.50 L1313.65,393.60 L1313.20,392.70 L1312.76,391.80 L1312.31,390.91 L1311.85,390.01 L1311.38,389.11 L1310.89,388.22 L1310.37,387.32 L1309.81,386.42 L1309.22,385.52 L1308.57,384.63 L1307.87,383.73 L1307.11,382.83 L1306.28,381.94 L1305.36,381.04 L1304.36,380.14 L1303.27,379.24 L1302.07,378.35 L1300.77,377.45 L1299.35,376.55 L1297.82,375.66 L1296.17,374.76 L1294.40,373.86 L1292.50,372.96 L1290.47,372.07 L1288.31,371.17 L1286.03,370.27 L1283.63,369.38 L1281.12,368.48 L1278.49,367.58 L1275.75,366.68 L1272.93,365.79 L1270.01,364.89 L1267.02,363.99 L1263.97,363.09 L1260.87,362.20 L1257.73,361.30 L1254.58,360.40 L1251.42,359.51 L1248.28,358.61 L1245.17,357.71 L1242.11,356.81 L1239.12,355.92 L1236.22,355.02 L1233.42,354.12 L1230.74,353.23 L1228.20,352.33 L1225.82,351.43 L1223.59,350.53 L1221.55,349.64 L1219.71,348.74 L1218.06,347.84 L1216.62,346.95 L1215.40,346.05 L1214.41,345.15 L1213.63,344.25 L1213.07,343.36 L1212.74,342.46 L1212.62,341.56 L1212.71,340.67 L1213.00,339.77 L1213.48,338.87 L1214.13,337.97 L1214.94,337.08 L1215.90,336.18 L1216.98,335.28 L1218.17,334.38 L1219.45,333.49 L1220.79,332.59 L1222.17,331.69 L1223.57,330.80 L1224.97,329.90 L1226.35,329.00 L1227.68,328.10 L1228.94,327.21 L1230.12,326.31 L1231.19,325.41 L1232.13,324.52 L1232.94,323.62 L1233.60,322.72 L1234.09,321.82 L1234.40,320.93 L1234.53,320.03 L1234.48,319.13 L1234.24,318.24 L1233.81,317.34 L1233.19,316.44 L1232.39,315.54 L1231.41,314.65 L1230.27,313.75 L1228.98,312.85 L1227.55,311.96 L1226.00,311.06 L1224.34,310.16 L1222.60,309.26 L1220.79,308.37 L1218.94,307.47 L1217.07,306.57 L1215.20,305.68 L1213.35,304.78 L1211.55,303.88 L1209.81,302.98 L1208.17,302.09 L1206.64,301.19 L1205.24,300.29 L1203.99,299.39 L1202.90,298.50 L1201.99,297.60 L1201.28,296.70 L1200.77,295.81 L1200.46,294.91 L1200.38,294.01 L1200.51,293.11 L1200.86,292.22 L1201.44,291.32 L1202.22,290.42 L1203.21,289.53 L1204.40,288.63 L1205.77,287.73 L1207.32,286.83 L1209.02,285.94 L1210.87,285.04 L1212.84,284.14 L1214.91,283.25 L1217.06,282.35 L1219.28,281.45 L1221.53,280.55 L1223.80,279.66 L1226.07,278.76 L1228.32,277.86 L1230.52,276.97 L1232.65,276.07 L1234.70,275.17 L1236.65,274.27 L1238.49,273.38 L1240.19,272.48 L1241.76,271.58 L1243.17,270.68 L1244.42,269.79 L1245.50,268.89 L1246.41,267.99 L1247.15,267.10 L1247.72,266.20 L1248.12,265.30 L1248.36,264.40 L1248.45,263.51 L1248.38,262.61 L1248.18,261.71 L1247.86,260.82 L1247.43,259.92 L1246.90,259.02 L1246.29,258.12 L1245.62,257.23 L1244.90,256.33 L1244.15,255.43 L1243.40,254.54 L1242.65,253.64 L1241.93,252.74 L1241.25,251.84 L1240.64,250.95 L1240.09,250.05 L1239.63,249.15 L1239.28,248.26 L1239.03,247.36 L1238.91,246.46 L1238.92,245.56 L1239.07,244.67 L1239.36,243.77 L1239.79,242.87 L1240.37,241.98 L1241.09,241.08 L1241.95,240.18 L1242.95,239.28 L1244.09,238.39 L1245.34,237.49 L1246.72,236.59 L1248.19,235.69 L1249.76,234.80 L1251.42,233.90 L1253.14,233.00 L1254.91,232.11 L1256.72,231.21 L1258.56,230.31 L1260.41,229.41 L1262.26,228.52 L1264.08,227.62 L1265.88,226.72 L1267.63,225.83 L1269.33,224.93 L1270.96,224.03 L1272.51,223.13 L1273.97,222.24 L1275.34,221.34 L1276.60,220.44 L1277.76,219.55 L1278.81,218.65 L1279.75,217.75 L1280.57,216.85 L1281.28,215.96 L1281.88,215.06 L1282.37,214.16 L1282.75,213.27 L1283.04,212.37 L1283.24,211.47 L1283.35,210.57 L1283.39,209.68 L1283.36,208.78 L1283.28,207.88 L1283.15,206.98 L1282.99,206.09 L1282.80,205.19 L1282.60,204.29 L1282.40,203.40 L1282.20,202.50 L1282.03,201.60 L1281.88,200.70 L1281.77,199.81 L1281.70,198.91 L1281.69,198.01 L1281.73,197.12 L1281.85,196.22 L1282.03,195.32 L1282.29,194.42 L1282.62,193.53 L1283.04,192.63 L1283.53,191.73 L1284.11,190.84 L1284.76,189.94 L1285.49,189.04 L1286.29,188.14 L1287.16,187.25 L1288.09,186.35 L1289.08,185.45 L1290.13,184.56 L1291.22,183.66 L1292.34,182.76 L1293.50,181.86 L1294.69,180.97 L1295.89,180.07 L1297.09,179.17 L1298.30,178.28 L1299.50,177.38 L1300.69,176.48 L1301.86,175.58 L1303.00,174.69 L1304.10,173.79 L1305.17,172.89 L1306.19,171.99 L1307.17,171.10 L1308.09,170.20 L1308.96,169.30 L1309.78,168.41 L1310.53,167.51 L1311.23,166.61 L1311.87,165.71 L1312.45,164.82 L1312.97,163.92 L1313.44,163.02 L1313.86,162.13 L1314.22,161.23 L1314.54,160.33 L1314.82,159.43 L1315.05,158.54 L1315.26,157.64 L1315.43,156.74 L1315.58,155.85 L1315.70,154.95 L1315.82,154.05 L1315.92,153.15 L1316.01,152.26 L1316.10,151.36 L1316.20,150.46 L1316.30,149.57 L1316.41,148.67 L1316.54,147.77 L1316.68,146.87 L1316.84,145.98 L1317.03,145.08 L1317.24,144.18 L1317.47,143.28 L1317.73,142.39 L1318.02,141.49 L1318.34,140.59 L1318.69,139.70 L1319.06,138.80 L1319.46,137.90 L1319.89,137.00 L1320.35,136.11 L1320.82,135.21 L1321.32,134.31 L1321.83,133.42 L1322.37,132.52 L1322.92,131.62 L1323.48,130.72 L1324.05,129.83 L1324.62,128.93 L1325.20,128.03 L1325.79,127.14 L1326.37,126.24 L1326.95,125.34 L1327.52,124.44 L1328.09,123.55 L1328.65,122.65 L1329.20,121.75 L1329.73,120.86 L1330.25,119.96 L1330.75,119.06 L1331.24,118.16 L1331.71,117.27 L1332.16,116.37 L1332.59,115.47 L1333.00,114.58 L1333.39,113.68 L1333.75,112.78 L1334.10,111.88 L1334.43,110.99 L1334.74,110.09 L1335.03,109.19 L1335.30,108.29 L1335.55,107.40 L1335.78,106.50 L1336.00,105.60 L1336.19,104.71 L1336.38,103.81 L1336.54,102.91 L1336.70,102.01 L1336.84,101.12 L1336.96,100.22 L1337.08,99.32 L1337.18,98.43 L1337.28,97.53 L1337.36,96.63 L1337.44,95.73 L1337.51,94.84 L1337.57,93.94 L1337.62,93.04 L1337.67,92.15 L1337.71,91.25 L1337.75,90.35 L1337.79,89.45 L1338.21,89.45 L1338.25,90.35 L1338.29,91.25 L1338.33,92.15 L1338.38,93.04 L1338.43,93.94 L1338.49,94.84 L1338.56,95.73 L1338.64,96.63 L1338.72,97.53 L1338.82,98.43 L1338.92,99.32 L1339.04,100.22 L1339.16,101.12 L1339.30,102.01 L1339.46,102.91 L1339.62,103.81 L1339.81,104.71 L1340.00,105.60 L1340.22,106.50 L1340.45,107.40 L1340.70,108.29 L1340.97,109.19 L1341.26,110.09 L1341.57,110.99 L1341.90,111.88 L1342.25,112.78 L1342.61,113.68 L1343.00,114.58 L1343.41,115.47 L1343.84,116.37 L1344.29,117.27 L1344.76,118.16 L1345.25,119.06 L1345.75,119.96 L1346.27,120.86 L1346.80,121.75 L1347.35,122.65 L1347.91,123.55 L1348.48,124.44 L1349.05,125.34 L1349.63,126.24 L1350.21,127.14 L1350.80,128.03 L1351.38,128.93 L1351.95,129.83 L1352.52,130.72 L1353.08,131.62 L1353.63,132.52 L1354.17,133.42 L1354.68,134.31 L1355.18,135.21 L1355.65,136.11 L1356.11,137.00 L1356.54,137.90 L1356.94,138.80 L1357.31,139.70 L1357.66,140.59 L1357.98,141.49 L1358.27,142.39 L1358.53,143.28 L1358.76,144.18 L1358.97,145.08 L1359.16,145.98 L1359.32,146.87 L1359.46,147.77 L1359.59,148.67 L1359.70,149.57 L1359.80,150.46 L1359.90,151.36 L1359.99,152.26 L1360.08,153.15 L1360.18,154.05 L1360.30,154.95 L1360.42,155.85 L1360.57,156.74 L1360.74,157.64 L1360.95,158.54 L1361.18,159.43 L1361.46,160.33 L1361.78,161.23 L1362.14,162.13 L1362.56,163.02 L1363.03,163.92 L1363.55,164.82 L1364.13,165.71 L1364.77,166.61 L1365.47,167.51 L1366.22,168.41 L1367.04,169.30 L1367.91,170.20 L1368.83,171.10 L1369.81,171.99 L1370.83,172.89 L1371.90,173.79 L1373.00,174.69 L1374.14,175.58 L1375.31,176.48 L1376.50,177.38 L1377.70,178.28 L1378.91,179.17 L1380.11,180.07 L1381.31,180.97 L1382.50,181.86 L1383.66,182.76 L1384.78,183.66 L1385.87,184.56 L1386.92,185.45 L1387.91,186.35 L1388.84,187.25 L1389.71,188.14 L1390.51,189.04 L1391.24,189.94 L1391.89,190.84 L1392.47,191.73 L1392.96,192.63 L1393.38,193.53 L1393.71,194.42 L1393.97,195.32 L1394.15,196.22 L1394.27,197.12 L1394.31,198.01 L1394.30,198.91 L1394.23,199.81 L1394.12,200.70 L1393.97,201.60 L1393.80,202.50 L1393.60,203.40 L1393.40,204.29 L1393.20,205.19 L1393.01,206.09 L1392.85,206.98 L1392.72,207.88 L1392.64,208.78 L1392.61,209.68 L1392.65,210.57 L1392.76,211.47 L1392.96,212.37 L1393.25,213.27 L1393.63,214.16 L1394.12,215.06 L1394.72,215.96 L1395.43,216.85 L1396.25,217.75 L1397.19,218.65 L1398.24,219.55 L1399.40,220.44 L1400.66,221.34 L1402.03,222.24 L1403.49,223.13 L1405.04,224.03 L1406.67,224.93 L1408.37,225.83 L1410.12,226.72 L1411.92,227.62 L1413.74,228.52 L1415.59,229.41 L1417.44,230.31 L1419.28,231.21 L1421.09,232.11 L1422.86,233.00 L1424.58,233.90 L1426.24,234.80 L1427.81,235.69 L1429.28,236.59 L1430.66,237.49 L1431.91,238.39 L1433.05,239.28 L1434.05,240.18 L1434.91,241.08 L1435.63,241.98 L1436.21,242.87 L1436.64,243.77 L1436.93,244.67 L1437.08,245.56 L1437.09,246.46 L1436.97,247.36 L1436.72,248.26 L1436.37,249.15 L1435.91,250.05 L1435.36,250.95 L1434.75,251.84 L1434.07,252.74 L1433.35,253.64 L1432.60,254.54 L1431.85,255.43 L1431.10,256.33 L1430.38,257.23 L1429.71,258.12 L1429.10,259.02 L1428.57,259.92 L1428.14,260.82 L1427.82,261.71 L1427.62,262.61 L1427.55,263.51 L1427.64,264.40 L1427.88,265.30 L1428.28,266.20 L1428.85,267.10 L1429.59,267.99 L1430.50,268.89 L1431.58,269.79 L1432.83,270.68 L1434.24,271.58 L1435.81,272.48 L1437.51,273.38 L1439.35,274.27 L1441.30,275.17 L1443.35,276.07 L1445.48,276.97 L1447.68,277.86 L1449.93,278.76 L1452.20,279.66 L1454.47,280.55 L1456.72,281.45 L1458.94,282.35 L1461.09,283.25 L1463.16,284.14 L1465.13,285.04 L1466.98,285.94 L1468.68,286.83 L1470.23,287.73 L1471.60,288.63 L1472.79,289.53 L1473.78,290.42 L1474.56,291.32 L1475.14,292.22 L1475.49,293.11 L1475.62,294.01 L1475.54,294.91 L1475.23,295.81 L1474.72,296.70 L1474.01,297.60 L1473.10,298.50 L1472.01,299.39 L1470.76,300.29 L1469.36,301.19 L1467.83,302.09 L1466.19,302.98 L1464.45,303.88 L1462.65,304.78 L1460.80,305.68 L1458.93,306.57 L1457.06,307.47 L1455.21,308.37 L1453.40,309.26 L1451.66,310.16 L1450.00,311.06 L1448.45,311.96 L1447.02,312.85 L1445.73,313.75 L1444.59,314.65 L1443.61,315.54 L1442.81,316.44 L1442.19,317.34 L1441.76,318.24 L1441.52,319.13 L1441.47,320.03 L1441.60,320.93 L1441.91,321.82 L1442.40,322.72 L1443.06,323.62 L1443.87,324.52 L1444.81,325.41 L1445.88,326.31 L1447.06,327.21 L1448.32,328.10 L1449.65,329.00 L1451.03,329.90 L1452.43,330.80 L1453.83,331.69 L1455.21,332.59 L1456.55,333.49 L1457.83,334.38 L1459.02,335.28 L1460.10,336.18 L1461.06,337.08 L1461.87,337.97 L1462.52,338.87 L1463.00,339.77 L1463.29,340.67 L1463.38,341.56 L1463.26,342.46 L1462.93,343.36 L1462.37,344.25 L1461.59,345.15 L1460.60,346.05 L1459.38,346.95 L1457.94,347.84 L1456.29,348.74 L1454.45,349.64 L1452.41,350.53 L1450.18,351.43 L1447.80,352.33 L1445.26,353.23 L1442.58,354.12 L1439.78,355.02 L1436.88,355.92 L1433.89,356.81 L1430.83,357.71 L1427.72,358.61 L1424.58,359.51 L1421.42,360.40 L1418.27,361.30 L1415.13,362.20 L1412.03,363.09 L1408.98,363.99 L1405.99,364.89 L1403.07,365.79 L1400.25,366.68 L1397.51,367.58 L1394.88,368.48 L1392.37,369.38 L1389.97,370.27 L1387.69,371.17 L1385.53,372.07 L1383.50,372.96 L1381.60,373.86 L1379.83,374.76 L1378.18,375.66 L1376.65,376.55 L1375.23,377.45 L1373.93,378.35 L1372.73,379.24 L1371.64,380.14 L1370.64,381.04 L1369.72,381.94 L1368.89,382.83 L1368.13,383.73 L1367.43,384.63 L1366.78,385.52 L1366.19,386.42 L1365.63,387.32 L1365.11,388.22 L1364.62,389.11 L1364.15,390.01 L1363.69,390.91 L1363.24,391.80 L1362.80,392.70 L1362.35,393.60 L1361.90,394.50 L1361.45,395.39 L1360.98,396.29 L1360.50,397.19 L1360.00,398.08 L1359.49,398.98 L1358.96,399.88 L1358.41,400.78 L1357.84,401.67 L1357.26,402.57 L1356.67,403.47 L1356.06,404.37 L1355.43,405.26 L1354.80,406.16 L1354.16,407.06 L1353.51,407.95 L1352.86,408.85 L1352.20,409.75 L1351.55,410.65 L1350.89,411.54 L1350.25,412.44 L1349.61,413.34 L1348.97,414.23 L1348.36,415.13 L1347.75,416.03 L1347.16,416.93 L1346.58,417.82 L1346.03,418.72 L1345.49,419.62 L1344.97,420.51 L1344.47,421.41 L1344.00,422.31 L1343.54,423.21 L1343.11,424.10 L1342.71,425.00 L1342.32,425.90 L1341.96,426.79 L1341.62,427.69 L1341.30,428.59 L1341.00,429.49 L1340.72,430.38 L1340.46,431.28 L1340.23,432.18 L1340.01,433.08 L1339.80,433.97 L1339.62,434.87 L1339.45,435.77 L1339.29,436.66 L1339.15,437.56 L1339.02,438.46 L1338.91,439.36 L1338.80,440.25 L1338.71,441.15 L1338.62,442.05 L1338.55,442.94 L1338.48,443.84 L1338.42,444.74 L1338.37,445.64 L1338.32,446.53 L1338.28,447.43Z" fill="#ff0000" stroke="#000" stroke-width="1.8" stroke-linejoin="round"/>
<line x1="882.60" y1="63.00" x2="882.60" y2="522.95" stroke="#000" stroke-width="1.9" stroke-linecap="butt"/>
<line x1="881.65" y1="522.00" x2="1508.80" y2="522.00" stroke="#000" stroke-width="1.9" stroke-linecap="butt"/>
<line x1="877.30" y1="515.15" x2="882.60" y2="515.15" stroke="#000" stroke-width="1.9" stroke-linecap="butt"/>
<text transform="translate(874.10 527.15) scale(1 1.04)" font-size="34.5" text-anchor="end" font-weight="normal">2.5</text>
<line x1="877.30" y1="391.40" x2="882.60" y2="391.40" stroke="#000" stroke-width="1.9" stroke-linecap="butt"/>
<text transform="translate(874.10 402.40) scale(1 1.04)" font-size="34.5" text-anchor="end" font-weight="normal">5.0</text>
<line x1="877.30" y1="267.65" x2="882.60" y2="267.65" stroke="#000" stroke-width="1.9" stroke-linecap="butt"/>
<text transform="translate(874.10 277.65) scale(1 1.04)" font-size="34.5" text-anchor="end" font-weight="normal">7.5</text>
<line x1="877.30" y1="143.90" x2="882.60" y2="143.90" stroke="#000" stroke-width="1.9" stroke-linecap="butt"/>
<text transform="translate(874.10 152.90) scale(1 1.04)" font-size="34.5" text-anchor="end" font-weight="normal">10.0</text>
<line x1="1053.30" y1="522.00" x2="1053.30" y2="527.00" stroke="#000" stroke-width="1.9" stroke-linecap="butt"/>
<line x1="1338.00" y1="522.00" x2="1338.00" y2="527.00" stroke="#000" stroke-width="1.9" stroke-linecap="butt"/>
<line x1="1053.30" y1="143.90" x2="1053.30" y2="242.90" stroke="#000" stroke-width="1.8" stroke-linecap="butt"/>
<line x1="1053.30" y1="341.90" x2="1053.30" y2="440.90" stroke="#000" stroke-width="1.8" stroke-linecap="butt"/>
<rect x="1024.50" y="242.90" width="57.60" height="99.00" fill="#fff" stroke="#000" stroke-width="1.8"/>
<line x1="1024.50" y1="292.40" x2="1082.10" y2="292.40" stroke="#000" stroke-width="3.2" stroke-linecap="butt"/>
<line x1="1338.00" y1="143.90" x2="1338.00" y2="242.90" stroke="#000" stroke-width="1.8" stroke-linecap="butt"/>
<line x1="1338.00" y1="341.90" x2="1338.00" y2="391.40" stroke="#000" stroke-width="1.8" stroke-linecap="butt"/>
<rect x="1309.20" y="242.90" width="57.60" height="99.00" fill="#fff" stroke="#000" stroke-width="1.8"/>
<line x1="1309.20" y1="292.40" x2="1366.80" y2="292.40" stroke="#000" stroke-width="3.2" stroke-linecap="butt"/>
<path d="M1053.30,139.20 L1053.30,129.20 L1338.00,129.20 L1338.00,139.20" fill="none" stroke="#000" stroke-width="1.3"/>
<text transform="translate(1184.00 124.90) scale(1 1.04)" font-size="33.5" text-anchor="middle" font-weight="normal">0.093</text>
<text transform="translate(771.50 29.60) scale(1 1.01)" font-size="34" text-anchor="start" font-weight="bold">B</text>
<text transform="translate(969.00 43.00) scale(1 1.04)" font-size="33.8" text-anchor="start" font-weight="normal">m6Ascore</text>
<text transform="translate(1179.50 43.00) scale(1 1.04)" font-size="28" text-anchor="start" font-weight="normal">Low</text>
<text transform="translate(1332.00 43.80) scale(1 1.04)" font-size="28" text-anchor="start" font-weight="normal">High</text>
<text transform="translate(1057.50 558.30) scale(1 1.04)" font-size="33.5" text-anchor="middle" font-weight="normal">Low</text>
<text transform="translate(1347.50 560.60) scale(1 1.04)" font-size="33.5" text-anchor="middle" font-weight="normal">High</text>
<text transform="translate(1197.00 615.20) scale(1 1.02)" font-size="39.5" text-anchor="middle" font-weight="normal">m6Ascore</text>
<text transform="translate(799.60 316.90) rotate(-90)" font-size="33.9" text-anchor="middle" font-weight="normal">ips_ctla4_neg_pd1_pos</text>
<rect x="1141.00" y="16.50" width="27.00" height="26.50" fill="#0066ff" stroke="#000" stroke-width="1.8"/>
<rect x="1297.50" y="18.50" width="27.00" height="26.50" fill="#ff0000" stroke="#000" stroke-width="1.8"/>
<path d="M272.09,1336.20 L272.09,1335.16 L272.08,1334.11 L272.08,1333.06 L272.08,1332.02 L272.08,1330.97 L272.07,1329.93 L272.07,1328.88 L272.06,1327.83 L272.06,1326.79 L272.05,1325.74 L272.05,1324.69 L272.04,1323.65 L272.03,1322.60 L272.02,1321.56 L272.01,1320.51 L272.00,1319.46 L271.99,1318.42 L271.98,1317.37 L271.97,1316.32 L271.95,1315.28 L271.94,1314.23 L271.92,1313.19 L271.90,1312.14 L271.89,1311.09 L271.87,1310.05 L271.85,1309.00 L271.82,1307.95 L271.80,1306.91 L271.78,1305.86 L271.75,1304.82 L271.72,1303.77 L271.70,1302.72 L271.67,1301.68 L271.64,1300.63 L271.61,1299.59 L271.58,1298.54 L271.55,1297.49 L271.51,1296.45 L271.48,1295.40 L271.45,1294.35 L271.41,1293.31 L271.38,1292.26 L271.35,1291.22 L271.31,1290.17 L271.28,1289.12 L271.25,1288.08 L271.21,1287.03 L271.18,1285.98 L271.15,1284.94 L271.11,1283.89 L271.08,1282.85 L271.05,1281.80 L271.02,1280.75 L270.98,1279.71 L270.95,1278.66 L270.91,1277.61 L270.88,1276.57 L270.84,1275.52 L270.80,1274.48 L270.76,1273.43 L270.72,1272.38 L270.67,1271.34 L270.62,1270.29 L270.56,1269.25 L270.50,1268.20 L270.43,1267.15 L270.35,1266.11 L270.27,1265.06 L270.17,1264.01 L270.07,1262.97 L269.96,1261.92 L269.83,1260.88 L269.69,1259.83 L269.54,1258.78 L269.38,1257.74 L269.20,1256.69 L269.00,1255.64 L268.79,1254.60 L268.56,1253.55 L268.31,1252.51 L268.05,1251.46 L267.77,1250.41 L267.47,1249.37 L267.15,1248.32 L266.82,1247.27 L266.46,1246.23 L266.10,1245.18 L265.71,1244.14 L265.31,1243.09 L264.90,1242.04 L264.48,1241.00 L264.04,1239.95 L263.60,1238.91 L263.15,1237.86 L262.69,1236.81 L262.24,1235.77 L261.78,1234.72 L261.32,1233.67 L260.87,1232.63 L260.42,1231.58 L259.98,1230.54 L259.55,1229.49 L259.14,1228.44 L258.74,1227.40 L258.36,1226.35 L258.00,1225.30 L257.66,1224.26 L257.34,1223.21 L257.05,1222.17 L256.78,1221.12 L256.54,1220.07 L256.32,1219.03 L256.13,1217.98 L255.96,1216.93 L255.82,1215.89 L255.70,1214.84 L255.61,1213.80 L255.53,1212.75 L255.47,1211.70 L255.42,1210.66 L255.38,1209.61 L255.35,1208.56 L255.32,1207.52 L255.29,1206.47 L255.25,1205.43 L255.21,1204.38 L255.14,1203.33 L255.06,1202.29 L254.96,1201.24 L254.82,1200.20 L254.65,1199.15 L254.44,1198.10 L254.19,1197.06 L253.89,1196.01 L253.53,1194.96 L253.13,1193.92 L252.66,1192.87 L252.14,1191.83 L251.56,1190.78 L250.91,1189.73 L250.20,1188.69 L249.42,1187.64 L248.58,1186.59 L247.69,1185.55 L246.73,1184.50 L245.72,1183.46 L244.66,1182.41 L243.55,1181.36 L242.39,1180.32 L241.21,1179.27 L239.99,1178.22 L238.75,1177.18 L237.50,1176.13 L236.24,1175.09 L234.97,1174.04 L233.72,1172.99 L232.49,1171.95 L231.29,1170.90 L230.11,1169.86 L228.99,1168.81 L227.91,1167.76 L226.89,1166.72 L225.94,1165.67 L225.06,1164.62 L224.26,1163.58 L223.53,1162.53 L222.90,1161.49 L222.35,1160.44 L221.90,1159.39 L221.53,1158.35 L221.26,1157.30 L221.08,1156.25 L220.98,1155.21 L220.97,1154.16 L221.03,1153.12 L221.16,1152.07 L221.36,1151.02 L221.62,1149.98 L221.92,1148.93 L222.25,1147.88 L222.61,1146.84 L222.99,1145.79 L223.37,1144.75 L223.73,1143.70 L224.08,1142.65 L224.39,1141.61 L224.65,1140.56 L224.85,1139.52 L224.99,1138.47 L225.04,1137.42 L224.99,1136.38 L224.85,1135.33 L224.59,1134.28 L224.22,1133.24 L223.72,1132.19 L223.10,1131.15 L222.34,1130.10 L221.45,1129.05 L220.42,1128.01 L219.27,1126.96 L217.98,1125.91 L216.57,1124.87 L215.04,1123.82 L213.40,1122.78 L211.66,1121.73 L209.83,1120.68 L207.92,1119.64 L205.95,1118.59 L203.94,1117.54 L201.89,1116.50 L199.82,1115.45 L197.75,1114.41 L195.70,1113.36 L193.69,1112.31 L191.73,1111.27 L189.85,1110.22 L188.05,1109.18 L186.36,1108.13 L184.79,1107.08 L183.35,1106.04 L182.07,1104.99 L180.95,1103.94 L180.00,1102.90 L179.24,1101.85 L178.67,1100.81 L178.29,1099.76 L178.11,1098.71 L178.14,1097.67 L178.37,1096.62 L178.79,1095.57 L179.42,1094.53 L180.23,1093.48 L181.22,1092.44 L182.39,1091.39 L183.71,1090.34 L185.19,1089.30 L186.80,1088.25 L188.53,1087.20 L190.36,1086.16 L192.28,1085.11 L194.26,1084.07 L196.30,1083.02 L198.38,1081.97 L200.47,1080.93 L202.55,1079.88 L204.62,1078.84 L206.66,1077.79 L208.64,1076.74 L210.56,1075.70 L212.41,1074.65 L214.16,1073.60 L215.81,1072.56 L217.35,1071.51 L218.77,1070.47 L220.07,1069.42 L221.24,1068.37 L222.28,1067.33 L223.19,1066.28 L223.96,1065.23 L224.60,1064.19 L225.12,1063.14 L225.51,1062.10 L225.79,1061.05 L225.96,1060.00 L226.03,1058.96 L226.00,1057.91 L225.90,1056.86 L225.72,1055.82 L225.49,1054.77 L225.21,1053.73 L224.89,1052.68 L224.56,1051.63 L224.21,1050.59 L223.86,1049.54 L223.52,1048.49 L223.21,1047.45 L222.93,1046.40 L222.70,1045.36 L222.51,1044.31 L222.39,1043.26 L222.33,1042.22 L222.34,1041.17 L222.43,1040.13 L222.59,1039.08 L222.84,1038.03 L223.17,1036.99 L223.58,1035.94 L224.07,1034.89 L224.64,1033.85 L225.29,1032.80 L226.00,1031.76 L226.78,1030.71 L227.62,1029.66 L228.51,1028.62 L229.44,1027.57 L230.41,1026.52 L231.41,1025.48 L232.43,1024.43 L233.45,1023.39 L234.48,1022.34 L235.50,1021.29 L236.51,1020.25 L237.49,1019.20 L238.44,1018.15 L239.35,1017.11 L240.22,1016.06 L241.03,1015.02 L241.79,1013.97 L242.48,1012.92 L243.11,1011.88 L243.67,1010.83 L244.16,1009.79 L244.58,1008.74 L244.93,1007.69 L245.20,1006.65 L245.41,1005.60 L245.54,1004.55 L245.61,1003.51 L245.63,1002.46 L245.58,1001.42 L245.48,1000.37 L245.34,999.32 L245.15,998.28 L244.94,997.23 L244.69,996.18 L244.43,995.14 L244.15,994.09 L243.87,993.05 L243.59,992.00 L243.31,990.95 L243.06,989.91 L242.82,988.86 L242.61,987.81 L242.44,986.77 L242.30,985.72 L242.21,984.68 L242.17,983.63 L242.17,982.58 L242.23,981.54 L242.35,980.49 L242.53,979.45 L242.77,978.40 L243.06,977.35 L243.42,976.31 L243.83,975.26 L244.30,974.21 L244.83,973.17 L245.40,972.12 L246.03,971.08 L246.70,970.03 L247.41,968.98 L248.17,967.94 L248.95,966.89 L249.77,965.84 L250.60,964.80 L251.46,963.75 L252.34,962.71 L253.22,961.66 L254.11,960.61 L255.00,959.57 L255.88,958.52 L256.76,957.47 L257.63,956.43 L258.48,955.38 L259.31,954.34 L260.13,953.29 L260.92,952.24 L261.68,951.20 L262.42,950.15 L263.12,949.11 L263.80,948.06 L264.45,947.01 L265.06,945.97 L265.64,944.92 L266.19,943.87 L266.70,942.83 L267.18,941.78 L267.63,940.74 L268.05,939.69 L268.44,938.64 L268.80,937.60 L269.13,936.55 L269.44,935.50 L269.72,934.46 L269.98,933.41 L270.21,932.37 L270.42,931.32 L270.61,930.27 L270.79,929.23 L270.94,928.18 L271.08,927.13 L271.21,926.09 L271.32,925.04 L271.42,924.00 L271.51,922.95 L271.59,921.90 L271.66,920.86 L271.72,919.81 L271.77,918.76 L272.43,918.76 L272.48,919.81 L272.54,920.86 L272.61,921.90 L272.69,922.95 L272.78,924.00 L272.88,925.04 L272.99,926.09 L273.12,927.13 L273.26,928.18 L273.41,929.23 L273.59,930.27 L273.78,931.32 L273.99,932.37 L274.22,933.41 L274.48,934.46 L274.76,935.50 L275.07,936.55 L275.40,937.60 L275.76,938.64 L276.15,939.69 L276.57,940.74 L277.02,941.78 L277.50,942.83 L278.01,943.87 L278.56,944.92 L279.14,945.97 L279.75,947.01 L280.40,948.06 L281.08,949.11 L281.78,950.15 L282.52,951.20 L283.28,952.24 L284.07,953.29 L284.89,954.34 L285.72,955.38 L286.57,956.43 L287.44,957.47 L288.32,958.52 L289.20,959.57 L290.09,960.61 L290.98,961.66 L291.86,962.71 L292.74,963.75 L293.60,964.80 L294.43,965.84 L295.25,966.89 L296.03,967.94 L296.79,968.98 L297.50,970.03 L298.17,971.08 L298.80,972.12 L299.37,973.17 L299.90,974.21 L300.37,975.26 L300.78,976.31 L301.14,977.35 L301.43,978.40 L301.67,979.45 L301.85,980.49 L301.97,981.54 L302.03,982.58 L302.03,983.63 L301.99,984.68 L301.90,985.72 L301.76,986.77 L301.59,987.81 L301.38,988.86 L301.14,989.91 L300.89,990.95 L300.61,992.00 L300.33,993.05 L300.05,994.09 L299.77,995.14 L299.51,996.18 L299.26,997.23 L299.05,998.28 L298.86,999.32 L298.72,1000.37 L298.62,1001.42 L298.57,1002.46 L298.59,1003.51 L298.66,1004.55 L298.79,1005.60 L299.00,1006.65 L299.27,1007.69 L299.62,1008.74 L300.04,1009.79 L300.53,1010.83 L301.09,1011.88 L301.72,1012.92 L302.41,1013.97 L303.17,1015.02 L303.98,1016.06 L304.85,1017.11 L305.76,1018.15 L306.71,1019.20 L307.69,1020.25 L308.70,1021.29 L309.72,1022.34 L310.75,1023.39 L311.77,1024.43 L312.79,1025.48 L313.79,1026.52 L314.76,1027.57 L315.69,1028.62 L316.58,1029.66 L317.42,1030.71 L318.20,1031.76 L318.91,1032.80 L319.56,1033.85 L320.13,1034.89 L320.62,1035.94 L321.03,1036.99 L321.36,1038.03 L321.61,1039.08 L321.77,1040.13 L321.86,1041.17 L321.87,1042.22 L321.81,1043.26 L321.69,1044.31 L321.50,1045.36 L321.27,1046.40 L320.99,1047.45 L320.68,1048.49 L320.34,1049.54 L319.99,1050.59 L319.64,1051.63 L319.31,1052.68 L318.99,1053.73 L318.71,1054.77 L318.48,1055.82 L318.30,1056.86 L318.20,1057.91 L318.17,1058.96 L318.24,1060.00 L318.41,1061.05 L318.69,1062.10 L319.08,1063.14 L319.60,1064.19 L320.24,1065.23 L321.01,1066.28 L321.92,1067.33 L322.96,1068.37 L324.13,1069.42 L325.43,1070.47 L326.85,1071.51 L328.39,1072.56 L330.04,1073.60 L331.79,1074.65 L333.64,1075.70 L335.56,1076.74 L337.54,1077.79 L339.58,1078.84 L341.65,1079.88 L343.73,1080.93 L345.82,1081.97 L347.90,1083.02 L349.94,1084.07 L351.92,1085.11 L353.84,1086.16 L355.67,1087.20 L357.40,1088.25 L359.01,1089.30 L360.49,1090.34 L361.81,1091.39 L362.98,1092.44 L363.97,1093.48 L364.78,1094.53 L365.41,1095.57 L365.83,1096.62 L366.06,1097.67 L366.09,1098.71 L365.91,1099.76 L365.53,1100.81 L364.96,1101.85 L364.20,1102.90 L363.25,1103.94 L362.13,1104.99 L360.85,1106.04 L359.41,1107.08 L357.84,1108.13 L356.15,1109.18 L354.35,1110.22 L352.47,1111.27 L350.51,1112.31 L348.50,1113.36 L346.45,1114.41 L344.38,1115.45 L342.31,1116.50 L340.26,1117.54 L338.25,1118.59 L336.28,1119.64 L334.37,1120.68 L332.54,1121.73 L330.80,1122.78 L329.16,1123.82 L327.63,1124.87 L326.22,1125.91 L324.93,1126.96 L323.78,1128.01 L322.75,1129.05 L321.86,1130.10 L321.10,1131.15 L320.48,1132.19 L319.98,1133.24 L319.61,1134.28 L319.35,1135.33 L319.21,1136.38 L319.16,1137.42 L319.21,1138.47 L319.35,1139.52 L319.55,1140.56 L319.81,1141.61 L320.12,1142.65 L320.47,1143.70 L320.83,1144.75 L321.21,1145.79 L321.59,1146.84 L321.95,1147.88 L322.28,1148.93 L322.58,1149.98 L322.84,1151.02 L323.04,1152.07 L323.17,1153.12 L323.23,1154.16 L323.22,1155.21 L323.12,1156.25 L322.94,1157.30 L322.67,1158.35 L322.30,1159.39 L321.85,1160.44 L321.30,1161.49 L320.67,1162.53 L319.94,1163.58 L319.14,1164.62 L318.26,1165.67 L317.31,1166.72 L316.29,1167.76 L315.21,1168.81 L314.09,1169.86 L312.91,1170.90 L311.71,1171.95 L310.48,1172.99 L309.23,1174.04 L307.96,1175.09 L306.70,1176.13 L305.45,1177.18 L304.21,1178.22 L302.99,1179.27 L301.81,1180.32 L300.65,1181.36 L299.54,1182.41 L298.48,1183.46 L297.47,1184.50 L296.51,1185.55 L295.62,1186.59 L294.78,1187.64 L294.00,1188.69 L293.29,1189.73 L292.64,1190.78 L292.06,1191.83 L291.54,1192.87 L291.07,1193.92 L290.67,1194.96 L290.31,1196.01 L290.01,1197.06 L289.76,1198.10 L289.55,1199.15 L289.38,1200.20 L289.24,1201.24 L289.14,1202.29 L289.06,1203.33 L288.99,1204.38 L288.95,1205.43 L288.91,1206.47 L288.88,1207.52 L288.85,1208.56 L288.82,1209.61 L288.78,1210.66 L288.73,1211.70 L288.67,1212.75 L288.59,1213.80 L288.50,1214.84 L288.38,1215.89 L288.24,1216.93 L288.07,1217.98 L287.88,1219.03 L287.66,1220.07 L287.42,1221.12 L287.15,1222.17 L286.86,1223.21 L286.54,1224.26 L286.20,1225.30 L285.84,1226.35 L285.46,1227.40 L285.06,1228.44 L284.65,1229.49 L284.22,1230.54 L283.78,1231.58 L283.33,1232.63 L282.88,1233.67 L282.42,1234.72 L281.96,1235.77 L281.51,1236.81 L281.05,1237.86 L280.60,1238.91 L280.16,1239.95 L279.72,1241.00 L279.30,1242.04 L278.89,1243.09 L278.49,1244.14 L278.10,1245.18 L277.74,1246.23 L277.38,1247.27 L277.05,1248.32 L276.73,1249.37 L276.43,1250.41 L276.15,1251.46 L275.89,1252.51 L275.64,1253.55 L275.41,1254.60 L275.20,1255.64 L275.00,1256.69 L274.82,1257.74 L274.66,1258.78 L274.51,1259.83 L274.37,1260.88 L274.24,1261.92 L274.13,1262.97 L274.03,1264.01 L273.93,1265.06 L273.85,1266.11 L273.77,1267.15 L273.70,1268.20 L273.64,1269.25 L273.58,1270.29 L273.53,1271.34 L273.48,1272.38 L273.44,1273.43 L273.40,1274.48 L273.36,1275.52 L273.32,1276.57 L273.29,1277.61 L273.25,1278.66 L273.22,1279.71 L273.18,1280.75 L273.15,1281.80 L273.12,1282.85 L273.09,1283.89 L273.05,1284.94 L273.02,1285.98 L272.99,1287.03 L272.95,1288.08 L272.92,1289.12 L272.89,1290.17 L272.85,1291.22 L272.82,1292.26 L272.79,1293.31 L272.75,1294.35 L272.72,1295.40 L272.69,1296.45 L272.65,1297.49 L272.62,1298.54 L272.59,1299.59 L272.56,1300.63 L272.53,1301.68 L272.50,1302.72 L272.48,1303.77 L272.45,1304.82 L272.42,1305.86 L272.40,1306.91 L272.38,1307.95 L272.35,1309.00 L272.33,1310.05 L272.31,1311.09 L272.30,1312.14 L272.28,1313.19 L272.26,1314.23 L272.25,1315.28 L272.23,1316.32 L272.22,1317.37 L272.21,1318.42 L272.20,1319.46 L272.19,1320.51 L272.18,1321.56 L272.17,1322.60 L272.16,1323.65 L272.15,1324.69 L272.15,1325.74 L272.14,1326.79 L272.14,1327.83 L272.13,1328.88 L272.13,1329.93 L272.12,1330.97 L272.12,1332.02 L272.12,1333.06 L272.12,1334.11 L272.11,1335.16 L272.11,1336.20Z" fill="#0066ff" stroke="#000" stroke-width="1.8" stroke-linejoin="round"/>
<path d="M564.08,1255.78 L564.00,1254.99 L563.91,1254.20 L563.80,1253.41 L563.68,1252.62 L563.55,1251.83 L563.39,1251.04 L563.21,1250.25 L563.01,1249.46 L562.78,1248.66 L562.52,1247.87 L562.24,1247.08 L561.92,1246.29 L561.56,1245.50 L561.17,1244.71 L560.74,1243.92 L560.26,1243.13 L559.75,1242.34 L559.18,1241.55 L558.58,1240.76 L557.92,1239.96 L557.21,1239.17 L556.46,1238.38 L555.66,1237.59 L554.81,1236.80 L553.91,1236.01 L552.98,1235.22 L552.00,1234.43 L550.98,1233.64 L549.93,1232.85 L548.85,1232.05 L547.75,1231.26 L546.63,1230.47 L545.50,1229.68 L544.36,1228.89 L543.23,1228.10 L542.12,1227.31 L541.02,1226.52 L539.95,1225.73 L538.92,1224.94 L537.94,1224.15 L537.01,1223.35 L536.15,1222.56 L535.36,1221.77 L534.64,1220.98 L534.01,1220.19 L533.47,1219.40 L533.03,1218.61 L532.69,1217.82 L532.46,1217.03 L532.33,1216.24 L532.30,1215.44 L532.39,1214.65 L532.58,1213.86 L532.88,1213.07 L533.28,1212.28 L533.77,1211.49 L534.36,1210.70 L535.03,1209.91 L535.78,1209.12 L536.60,1208.33 L537.48,1207.53 L538.42,1206.74 L539.39,1205.95 L540.41,1205.16 L541.44,1204.37 L542.49,1203.58 L543.54,1202.79 L544.58,1202.00 L545.60,1201.21 L546.60,1200.42 L547.55,1199.63 L548.46,1198.83 L549.31,1198.04 L550.10,1197.25 L550.81,1196.46 L551.43,1195.67 L551.96,1194.88 L552.38,1194.09 L552.70,1193.30 L552.89,1192.51 L552.96,1191.72 L552.89,1190.92 L552.67,1190.13 L552.31,1189.34 L551.78,1188.55 L551.09,1187.76 L550.23,1186.97 L549.18,1186.18 L547.95,1185.39 L546.53,1184.60 L544.91,1183.81 L543.08,1183.02 L541.06,1182.22 L538.83,1181.43 L536.39,1180.64 L533.74,1179.85 L530.90,1179.06 L527.86,1178.27 L524.62,1177.48 L521.21,1176.69 L517.62,1175.90 L513.88,1175.11 L510.00,1174.31 L506.00,1173.52 L501.89,1172.73 L497.72,1171.94 L493.48,1171.15 L489.23,1170.36 L484.98,1169.57 L480.77,1168.78 L476.62,1167.99 L472.58,1167.20 L468.67,1166.41 L464.92,1165.61 L461.38,1164.82 L458.07,1164.03 L455.02,1163.24 L452.26,1162.45 L449.81,1161.66 L447.71,1160.87 L445.97,1160.08 L444.61,1159.29 L443.63,1158.50 L443.06,1157.70 L442.90,1156.91 L443.15,1156.12 L443.80,1155.33 L444.85,1154.54 L446.29,1153.75 L448.11,1152.96 L450.28,1152.17 L452.78,1151.38 L455.59,1150.59 L458.68,1149.79 L462.02,1149.00 L465.59,1148.21 L469.34,1147.42 L473.24,1146.63 L477.26,1145.84 L481.37,1145.05 L485.52,1144.26 L489.69,1143.47 L493.85,1142.68 L497.95,1141.89 L501.98,1141.09 L505.90,1140.30 L509.68,1139.51 L513.31,1138.72 L516.76,1137.93 L520.00,1137.14 L523.03,1136.35 L525.82,1135.56 L528.35,1134.77 L530.63,1133.98 L532.62,1133.18 L534.33,1132.39 L535.75,1131.60 L536.86,1130.81 L537.66,1130.02 L538.15,1129.23 L538.32,1128.44 L538.17,1127.65 L537.69,1126.86 L536.89,1126.07 L535.77,1125.28 L534.32,1124.48 L532.55,1123.69 L530.46,1122.90 L528.06,1122.11 L525.35,1121.32 L522.34,1120.53 L519.05,1119.74 L515.48,1118.95 L511.65,1118.16 L507.57,1117.37 L503.28,1116.57 L498.78,1115.78 L494.11,1114.99 L489.29,1114.20 L484.36,1113.41 L479.34,1112.62 L474.27,1111.83 L469.18,1111.04 L464.13,1110.25 L459.14,1109.46 L454.25,1108.66 L449.52,1107.87 L444.97,1107.08 L440.65,1106.29 L436.60,1105.50 L432.85,1104.71 L429.45,1103.92 L426.42,1103.13 L423.79,1102.34 L421.60,1101.55 L419.86,1100.76 L418.59,1099.96 L417.80,1099.17 L417.50,1098.38 L417.70,1097.59 L418.39,1096.80 L419.57,1096.01 L421.22,1095.22 L423.32,1094.43 L425.87,1093.64 L428.82,1092.85 L432.16,1092.05 L435.85,1091.26 L439.85,1090.47 L444.13,1089.68 L448.66,1088.89 L453.39,1088.10 L458.27,1087.31 L463.28,1086.52 L468.37,1085.73 L473.51,1084.94 L478.64,1084.15 L483.75,1083.35 L488.80,1082.56 L493.75,1081.77 L498.57,1080.98 L503.25,1080.19 L507.76,1079.40 L512.08,1078.61 L516.19,1077.82 L520.07,1077.03 L523.73,1076.24 L527.14,1075.44 L530.30,1074.65 L533.21,1073.86 L535.86,1073.07 L538.26,1072.28 L540.41,1071.49 L542.31,1070.70 L543.97,1069.91 L545.38,1069.12 L546.56,1068.33 L547.52,1067.54 L548.26,1066.74 L548.78,1065.95 L549.11,1065.16 L549.24,1064.37 L549.19,1063.58 L548.97,1062.79 L548.58,1062.00 L548.04,1061.21 L547.35,1060.42 L546.53,1059.63 L545.59,1058.83 L544.54,1058.04 L543.39,1057.25 L542.15,1056.46 L540.83,1055.67 L539.46,1054.88 L538.03,1054.09 L536.57,1053.30 L535.08,1052.51 L533.59,1051.72 L532.11,1050.92 L530.64,1050.13 L529.21,1049.34 L527.83,1048.55 L526.51,1047.76 L525.26,1046.97 L524.11,1046.18 L523.05,1045.39 L522.10,1044.60 L521.28,1043.81 L520.58,1043.02 L520.02,1042.22 L519.60,1041.43 L519.33,1040.64 L519.21,1039.85 L519.24,1039.06 L519.42,1038.27 L519.75,1037.48 L520.23,1036.69 L520.85,1035.90 L521.61,1035.11 L522.49,1034.31 L523.49,1033.52 L524.61,1032.73 L525.82,1031.94 L527.12,1031.15 L528.50,1030.36 L529.95,1029.57 L531.44,1028.78 L532.98,1027.99 L534.54,1027.20 L536.12,1026.41 L537.70,1025.61 L539.27,1024.82 L540.83,1024.03 L542.36,1023.24 L543.85,1022.45 L545.30,1021.66 L546.69,1020.87 L548.03,1020.08 L549.30,1019.29 L550.50,1018.50 L551.63,1017.70 L552.69,1016.91 L553.67,1016.12 L554.57,1015.33 L555.38,1014.54 L556.12,1013.75 L556.78,1012.96 L557.36,1012.17 L557.86,1011.38 L558.28,1010.59 L558.62,1009.79 L558.90,1009.00 L559.10,1008.21 L559.23,1007.42 L559.30,1006.63 L559.30,1005.84 L559.24,1005.05 L559.13,1004.26 L558.95,1003.47 L558.73,1002.68 L558.46,1001.89 L558.14,1001.09 L557.78,1000.30 L557.38,999.51 L556.95,998.72 L556.49,997.93 L556.00,997.14 L555.49,996.35 L554.96,995.56 L554.42,994.77 L553.87,993.98 L553.32,993.18 L552.77,992.39 L552.22,991.60 L551.69,990.81 L551.18,990.02 L550.69,989.23 L550.22,988.44 L549.79,987.65 L549.39,986.86 L549.04,986.07 L548.72,985.28 L548.46,984.48 L548.24,983.69 L548.07,982.90 L547.96,982.11 L547.91,981.32 L547.91,980.53 L547.96,979.74 L548.07,978.95 L548.24,978.16 L548.45,977.37 L548.72,976.57 L549.03,975.78 L549.39,974.99 L549.79,974.20 L550.23,973.41 L550.70,972.62 L551.21,971.83 L551.73,971.04 L552.28,970.25 L552.84,969.46 L553.42,968.67 L554.00,967.87 L554.58,967.08 L555.16,966.29 L555.74,965.50 L556.31,964.71 L556.87,963.92 L557.42,963.13 L557.95,962.34 L558.45,961.55 L558.94,960.76 L559.41,959.96 L559.85,959.17 L560.27,958.38 L560.66,957.59 L561.03,956.80 L561.38,956.01 L561.70,955.22 L561.99,954.43 L562.26,953.64 L562.51,952.85 L562.74,952.05 L562.95,951.26 L563.13,950.47 L563.30,949.68 L563.45,948.89 L563.59,948.10 L563.71,947.31 L563.81,946.52 L563.91,945.73 L563.99,944.94 L564.07,944.15 L564.13,943.35 L564.18,942.56 L564.23,941.77 L564.27,940.98 L564.31,940.19 L564.69,940.19 L564.73,940.98 L564.77,941.77 L564.82,942.56 L564.87,943.35 L564.93,944.15 L565.01,944.94 L565.09,945.73 L565.19,946.52 L565.29,947.31 L565.41,948.10 L565.55,948.89 L565.70,949.68 L565.87,950.47 L566.05,951.26 L566.26,952.05 L566.49,952.85 L566.74,953.64 L567.01,954.43 L567.30,955.22 L567.62,956.01 L567.97,956.80 L568.34,957.59 L568.73,958.38 L569.15,959.17 L569.59,959.96 L570.06,960.76 L570.55,961.55 L571.05,962.34 L571.58,963.13 L572.13,963.92 L572.69,964.71 L573.26,965.50 L573.84,966.29 L574.42,967.08 L575.00,967.87 L575.58,968.67 L576.16,969.46 L576.72,970.25 L577.27,971.04 L577.79,971.83 L578.30,972.62 L578.77,973.41 L579.21,974.20 L579.61,974.99 L579.97,975.78 L580.28,976.57 L580.55,977.37 L580.76,978.16 L580.93,978.95 L581.04,979.74 L581.09,980.53 L581.09,981.32 L581.04,982.11 L580.93,982.90 L580.76,983.69 L580.54,984.48 L580.28,985.28 L579.96,986.07 L579.61,986.86 L579.21,987.65 L578.78,988.44 L578.31,989.23 L577.82,990.02 L577.31,990.81 L576.78,991.60 L576.23,992.39 L575.68,993.18 L575.13,993.98 L574.58,994.77 L574.04,995.56 L573.51,996.35 L573.00,997.14 L572.51,997.93 L572.05,998.72 L571.62,999.51 L571.22,1000.30 L570.86,1001.09 L570.54,1001.89 L570.27,1002.68 L570.05,1003.47 L569.87,1004.26 L569.76,1005.05 L569.70,1005.84 L569.70,1006.63 L569.77,1007.42 L569.90,1008.21 L570.10,1009.00 L570.38,1009.79 L570.72,1010.59 L571.14,1011.38 L571.64,1012.17 L572.22,1012.96 L572.88,1013.75 L573.62,1014.54 L574.43,1015.33 L575.33,1016.12 L576.31,1016.91 L577.37,1017.70 L578.50,1018.50 L579.70,1019.29 L580.97,1020.08 L582.31,1020.87 L583.70,1021.66 L585.15,1022.45 L586.64,1023.24 L588.17,1024.03 L589.73,1024.82 L591.30,1025.61 L592.88,1026.41 L594.46,1027.20 L596.02,1027.99 L597.56,1028.78 L599.05,1029.57 L600.50,1030.36 L601.88,1031.15 L603.18,1031.94 L604.39,1032.73 L605.51,1033.52 L606.51,1034.31 L607.39,1035.11 L608.15,1035.90 L608.77,1036.69 L609.25,1037.48 L609.58,1038.27 L609.76,1039.06 L609.79,1039.85 L609.67,1040.64 L609.40,1041.43 L608.98,1042.22 L608.42,1043.02 L607.72,1043.81 L606.90,1044.60 L605.95,1045.39 L604.89,1046.18 L603.74,1046.97 L602.49,1047.76 L601.17,1048.55 L599.79,1049.34 L598.36,1050.13 L596.89,1050.92 L595.41,1051.72 L593.92,1052.51 L592.43,1053.30 L590.97,1054.09 L589.54,1054.88 L588.17,1055.67 L586.85,1056.46 L585.61,1057.25 L584.46,1058.04 L583.41,1058.83 L582.47,1059.63 L581.65,1060.42 L580.96,1061.21 L580.42,1062.00 L580.03,1062.79 L579.81,1063.58 L579.76,1064.37 L579.89,1065.16 L580.22,1065.95 L580.74,1066.74 L581.48,1067.54 L582.44,1068.33 L583.62,1069.12 L585.03,1069.91 L586.69,1070.70 L588.59,1071.49 L590.74,1072.28 L593.14,1073.07 L595.79,1073.86 L598.70,1074.65 L601.86,1075.44 L605.27,1076.24 L608.93,1077.03 L612.81,1077.82 L616.92,1078.61 L621.24,1079.40 L625.75,1080.19 L630.43,1080.98 L635.25,1081.77 L640.20,1082.56 L645.25,1083.35 L650.36,1084.15 L655.49,1084.94 L660.63,1085.73 L665.72,1086.52 L670.73,1087.31 L675.61,1088.10 L680.34,1088.89 L684.87,1089.68 L689.15,1090.47 L693.15,1091.26 L696.84,1092.05 L700.18,1092.85 L703.13,1093.64 L705.68,1094.43 L707.78,1095.22 L709.43,1096.01 L710.61,1096.80 L711.30,1097.59 L711.50,1098.38 L711.20,1099.17 L710.41,1099.96 L709.14,1100.76 L707.40,1101.55 L705.21,1102.34 L702.58,1103.13 L699.55,1103.92 L696.15,1104.71 L692.40,1105.50 L688.35,1106.29 L684.03,1107.08 L679.48,1107.87 L674.75,1108.66 L669.86,1109.46 L664.87,1110.25 L659.82,1111.04 L654.73,1111.83 L649.66,1112.62 L644.64,1113.41 L639.71,1114.20 L634.89,1114.99 L630.22,1115.78 L625.72,1116.57 L621.43,1117.37 L617.35,1118.16 L613.52,1118.95 L609.95,1119.74 L606.66,1120.53 L603.65,1121.32 L600.94,1122.11 L598.54,1122.90 L596.45,1123.69 L594.68,1124.48 L593.23,1125.28 L592.11,1126.07 L591.31,1126.86 L590.83,1127.65 L590.68,1128.44 L590.85,1129.23 L591.34,1130.02 L592.14,1130.81 L593.25,1131.60 L594.67,1132.39 L596.38,1133.18 L598.37,1133.98 L600.65,1134.77 L603.18,1135.56 L605.97,1136.35 L609.00,1137.14 L612.24,1137.93 L615.69,1138.72 L619.32,1139.51 L623.10,1140.30 L627.02,1141.09 L631.05,1141.89 L635.15,1142.68 L639.31,1143.47 L643.48,1144.26 L647.63,1145.05 L651.74,1145.84 L655.76,1146.63 L659.66,1147.42 L663.41,1148.21 L666.98,1149.00 L670.32,1149.79 L673.41,1150.59 L676.22,1151.38 L678.72,1152.17 L680.89,1152.96 L682.71,1153.75 L684.15,1154.54 L685.20,1155.33 L685.85,1156.12 L686.10,1156.91 L685.94,1157.70 L685.37,1158.50 L684.39,1159.29 L683.03,1160.08 L681.29,1160.87 L679.19,1161.66 L676.74,1162.45 L673.98,1163.24 L670.93,1164.03 L667.62,1164.82 L664.08,1165.61 L660.33,1166.41 L656.42,1167.20 L652.38,1167.99 L648.23,1168.78 L644.02,1169.57 L639.77,1170.36 L635.52,1171.15 L631.28,1171.94 L627.11,1172.73 L623.00,1173.52 L619.00,1174.31 L615.12,1175.11 L611.38,1175.90 L607.79,1176.69 L604.38,1177.48 L601.14,1178.27 L598.10,1179.06 L595.26,1179.85 L592.61,1180.64 L590.17,1181.43 L587.94,1182.22 L585.92,1183.02 L584.09,1183.81 L582.47,1184.60 L581.05,1185.39 L579.82,1186.18 L578.77,1186.97 L577.91,1187.76 L577.22,1188.55 L576.69,1189.34 L576.33,1190.13 L576.11,1190.92 L576.04,1191.72 L576.11,1192.51 L576.30,1193.30 L576.62,1194.09 L577.04,1194.88 L577.57,1195.67 L578.19,1196.46 L578.90,1197.25 L579.69,1198.04 L580.54,1198.83 L581.45,1199.63 L582.40,1200.42 L583.40,1201.21 L584.42,1202.00 L585.46,1202.79 L586.51,1203.58 L587.56,1204.37 L588.59,1205.16 L589.61,1205.95 L590.58,1206.74 L591.52,1207.53 L592.40,1208.33 L593.22,1209.12 L593.97,1209.91 L594.64,1210.70 L595.23,1211.49 L595.72,1212.28 L596.12,1213.07 L596.42,1213.86 L596.61,1214.65 L596.70,1215.44 L596.67,1216.24 L596.54,1217.03 L596.31,1217.82 L595.97,1218.61 L595.53,1219.40 L594.99,1220.19 L594.36,1220.98 L593.64,1221.77 L592.85,1222.56 L591.99,1223.35 L591.06,1224.15 L590.08,1224.94 L589.05,1225.73 L587.98,1226.52 L586.88,1227.31 L585.77,1228.10 L584.64,1228.89 L583.50,1229.68 L582.37,1230.47 L581.25,1231.26 L580.15,1232.05 L579.07,1232.85 L578.02,1233.64 L577.00,1234.43 L576.02,1235.22 L575.09,1236.01 L574.19,1236.80 L573.34,1237.59 L572.54,1238.38 L571.79,1239.17 L571.08,1239.96 L570.42,1240.76 L569.82,1241.55 L569.25,1242.34 L568.74,1243.13 L568.26,1243.92 L567.83,1244.71 L567.44,1245.50 L567.08,1246.29 L566.76,1247.08 L566.48,1247.87 L566.22,1248.66 L565.99,1249.46 L565.79,1250.25 L565.61,1251.04 L565.45,1251.83 L565.32,1252.62 L565.20,1253.41 L565.09,1254.20 L565.00,1254.99 L564.92,1255.78Z" fill="#ff0000" stroke="#000" stroke-width="1.8" stroke-linejoin="round"/>
<line x1="96.40" y1="897.30" x2="96.40" y2="1356.95" stroke="#000" stroke-width="1.9" stroke-linecap="butt"/>
<line x1="95.45" y1="1356.00" x2="740.00" y2="1356.00" stroke="#000" stroke-width="1.9" stroke-linecap="butt"/>
<line x1="91.10" y1="1332.20" x2="96.40" y2="1332.20" stroke="#000" stroke-width="1.9" stroke-linecap="butt"/>
<text transform="translate(88.90 1344.90) scale(1 1.04)" font-size="34.5" text-anchor="end" font-weight="normal">4</text>
<line x1="91.10" y1="1214.80" x2="96.40" y2="1214.80" stroke="#000" stroke-width="1.9" stroke-linecap="butt"/>
<text transform="translate(88.90 1227.50) scale(1 1.04)" font-size="34.5" text-anchor="end" font-weight="normal">6</text>
<line x1="91.10" y1="1097.40" x2="96.40" y2="1097.40" stroke="#000" stroke-width="1.9" stroke-linecap="butt"/>
<text transform="translate(88.90 1110.10) scale(1 1.04)" font-size="34.5" text-anchor="end" font-weight="normal">8</text>
<line x1="91.10" y1="980.00" x2="96.40" y2="980.00" stroke="#000" stroke-width="1.9" stroke-linecap="butt"/>
<text transform="translate(88.90 992.70) scale(1 1.04)" font-size="34.5" text-anchor="end" font-weight="normal">10</text>
<line x1="272.10" y1="1356.00" x2="272.10" y2="1361.00" stroke="#000" stroke-width="1.9" stroke-linecap="butt"/>
<line x1="564.50" y1="1356.00" x2="564.50" y2="1361.00" stroke="#000" stroke-width="1.9" stroke-linecap="butt"/>
<line x1="272.10" y1="980.00" x2="272.10" y2="1038.70" stroke="#000" stroke-width="1.8" stroke-linecap="butt"/>
<line x1="272.10" y1="1156.10" x2="272.10" y2="1273.50" stroke="#000" stroke-width="1.8" stroke-linecap="butt"/>
<rect x="243.30" y="1038.70" width="57.60" height="117.40" fill="#fff" stroke="#000" stroke-width="1.8"/>
<line x1="243.30" y1="1097.40" x2="300.90" y2="1097.40" stroke="#000" stroke-width="3.2" stroke-linecap="butt"/>
<line x1="564.50" y1="1038.70" x2="564.50" y2="1097.40" stroke="#000" stroke-width="1.8" stroke-linecap="butt"/>
<line x1="564.50" y1="1156.10" x2="564.50" y2="1214.80" stroke="#000" stroke-width="1.8" stroke-linecap="butt"/>
<rect x="535.70" y="1097.40" width="57.60" height="58.70" fill="#fff" stroke="#000" stroke-width="1.8"/>
<line x1="535.70" y1="1097.40" x2="593.30" y2="1097.40" stroke="#000" stroke-width="3.2" stroke-linecap="butt"/>
<circle cx="564.50" cy="980.00" r="3.8" fill="#000"/>
<path d="M272.10,975.20 L272.10,965.20 L564.50,965.20 L564.50,975.20" fill="none" stroke="#000" stroke-width="1.3"/>
<text transform="translate(435.50 959.70) scale(1 1.04)" font-size="33.5" text-anchor="middle" font-weight="normal">9.1e−05</text>
<text transform="translate(4.80 823.00) scale(1 1.01)" font-size="34" text-anchor="start" font-weight="bold">C</text>
<text transform="translate(178.50 835.20) scale(1 1.04)" font-size="33.8" text-anchor="start" font-weight="normal">m6Ascore</text>
<text transform="translate(392.00 835.20) scale(1 1.04)" font-size="28" text-anchor="start" font-weight="normal">Low</text>
<text transform="translate(549.50 835.20) scale(1 1.04)" font-size="28" text-anchor="start" font-weight="normal">High</text>
<text transform="translate(272.70 1390.70) scale(1 1.04)" font-size="33.5" text-anchor="middle" font-weight="normal">Low</text>
<text transform="translate(563.00 1393.30) scale(1 1.04)" font-size="33.5" text-anchor="middle" font-weight="normal">High</text>
<text transform="translate(410.50 1439.00) scale(1 1.02)" font-size="39.5" text-anchor="middle" font-weight="normal">m6Ascore</text>
<text transform="translate(45.40 1128.30) rotate(-90)" font-size="33.9" text-anchor="middle" font-weight="normal">ips_ctla4_pos_pd1_neg</text>
<rect x="354.00" y="810.80" width="27.00" height="26.50" fill="#0066ff" stroke="#000" stroke-width="1.8"/>
<rect x="510.50" y="812.80" width="27.00" height="26.50" fill="#ff0000" stroke="#000" stroke-width="1.8"/>
<path d="M1058.77,1333.72 L1058.76,1332.74 L1058.74,1331.75 L1058.73,1330.77 L1058.71,1329.79 L1058.69,1328.81 L1058.66,1327.83 L1058.62,1326.85 L1058.58,1325.86 L1058.53,1324.88 L1058.47,1323.90 L1058.40,1322.92 L1058.33,1321.94 L1058.24,1320.96 L1058.14,1319.98 L1058.03,1318.99 L1057.91,1318.01 L1057.78,1317.03 L1057.64,1316.05 L1057.49,1315.07 L1057.33,1314.09 L1057.17,1313.11 L1057.00,1312.12 L1056.84,1311.14 L1056.67,1310.16 L1056.51,1309.18 L1056.35,1308.20 L1056.21,1307.22 L1056.08,1306.23 L1055.96,1305.25 L1055.86,1304.27 L1055.79,1303.29 L1055.74,1302.31 L1055.71,1301.33 L1055.70,1300.35 L1055.72,1299.36 L1055.76,1298.38 L1055.83,1297.40 L1055.92,1296.42 L1056.02,1295.44 L1056.14,1294.46 L1056.27,1293.48 L1056.41,1292.49 L1056.56,1291.51 L1056.70,1290.53 L1056.84,1289.55 L1056.98,1288.57 L1057.10,1287.59 L1057.20,1286.60 L1057.28,1285.62 L1057.33,1284.64 L1057.36,1283.66 L1057.34,1282.68 L1057.29,1281.70 L1057.18,1280.72 L1057.03,1279.73 L1056.82,1278.75 L1056.56,1277.77 L1056.23,1276.79 L1055.83,1275.81 L1055.35,1274.83 L1054.81,1273.85 L1054.19,1272.86 L1053.50,1271.88 L1052.74,1270.90 L1051.92,1269.92 L1051.03,1268.94 L1050.09,1267.96 L1049.11,1266.97 L1048.09,1265.99 L1047.07,1265.01 L1046.05,1264.03 L1045.04,1263.05 L1044.08,1262.07 L1043.17,1261.09 L1042.34,1260.10 L1041.60,1259.12 L1040.97,1258.14 L1040.47,1257.16 L1040.10,1256.18 L1039.88,1255.20 L1039.80,1254.22 L1039.87,1253.23 L1040.10,1252.25 L1040.46,1251.27 L1040.96,1250.29 L1041.57,1249.31 L1042.29,1248.33 L1043.09,1247.34 L1043.96,1246.36 L1044.86,1245.38 L1045.79,1244.40 L1046.70,1243.42 L1047.59,1242.44 L1048.42,1241.46 L1049.17,1240.47 L1049.82,1239.49 L1050.34,1238.51 L1050.71,1237.53 L1050.90,1236.55 L1050.90,1235.57 L1050.69,1234.59 L1050.23,1233.60 L1049.52,1232.62 L1048.52,1231.64 L1047.23,1230.66 L1045.62,1229.68 L1043.68,1228.70 L1041.40,1227.71 L1038.79,1226.73 L1035.83,1225.75 L1032.54,1224.77 L1028.94,1223.79 L1025.05,1222.81 L1020.92,1221.83 L1016.57,1220.84 L1012.07,1219.86 L1007.49,1218.88 L1002.88,1217.90 L998.34,1216.92 L993.94,1215.94 L989.78,1214.96 L985.92,1213.97 L982.47,1212.99 L979.48,1212.01 L977.04,1211.03 L975.18,1210.05 L973.97,1209.07 L973.43,1208.08 L973.57,1207.10 L974.38,1206.12 L975.85,1205.14 L977.93,1204.16 L980.59,1203.18 L983.74,1202.20 L987.33,1201.21 L991.26,1200.23 L995.44,1199.25 L999.79,1198.27 L1004.22,1197.29 L1008.63,1196.31 L1012.93,1195.33 L1017.04,1194.34 L1020.89,1193.36 L1024.40,1192.38 L1027.52,1191.40 L1030.18,1190.42 L1032.33,1189.44 L1033.94,1188.45 L1034.96,1187.47 L1035.36,1186.49 L1035.11,1185.51 L1034.19,1184.53 L1032.59,1183.55 L1030.28,1182.57 L1027.28,1181.58 L1023.58,1180.60 L1019.19,1179.62 L1014.14,1178.64 L1008.48,1177.66 L1002.24,1176.68 L995.49,1175.70 L988.32,1174.71 L980.83,1173.73 L973.11,1172.75 L965.31,1171.77 L957.55,1170.79 L949.97,1169.81 L942.73,1168.83 L935.98,1167.84 L929.85,1166.86 L924.49,1165.88 L920.01,1164.90 L916.52,1163.92 L914.10,1162.94 L912.82,1161.95 L912.69,1160.97 L913.73,1159.99 L915.91,1159.01 L919.17,1158.03 L923.44,1157.05 L928.62,1156.07 L934.59,1155.08 L941.21,1154.10 L948.34,1153.12 L955.83,1152.14 L963.54,1151.16 L971.30,1150.18 L978.99,1149.20 L986.47,1148.21 L993.63,1147.23 L1000.36,1146.25 L1006.58,1145.27 L1012.20,1144.29 L1017.16,1143.31 L1021.43,1142.32 L1024.97,1141.34 L1027.75,1140.36 L1029.76,1139.38 L1030.99,1138.40 L1031.44,1137.42 L1031.14,1136.44 L1030.08,1135.45 L1028.30,1134.47 L1025.82,1133.49 L1022.68,1132.51 L1018.92,1131.53 L1014.60,1130.55 L1009.79,1129.57 L1004.55,1128.58 L998.97,1127.60 L993.15,1126.62 L987.18,1125.64 L981.19,1124.66 L975.28,1123.68 L969.58,1122.69 L964.20,1121.71 L959.27,1120.73 L954.90,1119.75 L951.19,1118.77 L948.22,1117.79 L946.07,1116.81 L944.78,1115.82 L944.40,1114.84 L944.93,1113.86 L946.37,1112.88 L948.66,1111.90 L951.77,1110.92 L955.61,1109.94 L960.10,1108.95 L965.15,1107.97 L970.62,1106.99 L976.43,1106.01 L982.44,1105.03 L988.54,1104.05 L994.63,1103.06 L1000.59,1102.08 L1006.35,1101.10 L1011.81,1100.12 L1016.91,1099.14 L1021.59,1098.16 L1025.80,1097.18 L1029.51,1096.19 L1032.69,1095.21 L1035.33,1094.23 L1037.43,1093.25 L1038.97,1092.27 L1039.98,1091.29 L1040.45,1090.31 L1040.41,1089.32 L1039.87,1088.34 L1038.86,1087.36 L1037.40,1086.38 L1035.53,1085.40 L1033.29,1084.42 L1030.71,1083.43 L1027.84,1082.45 L1024.74,1081.47 L1021.45,1080.49 L1018.05,1079.51 L1014.60,1078.53 L1011.17,1077.55 L1007.83,1076.56 L1004.65,1075.58 L1001.70,1074.60 L999.06,1073.62 L996.77,1072.64 L994.91,1071.66 L993.51,1070.68 L992.60,1069.69 L992.21,1068.71 L992.36,1067.73 L993.03,1066.75 L994.21,1065.77 L995.88,1064.79 L997.98,1063.80 L1000.49,1062.82 L1003.33,1061.84 L1006.45,1060.86 L1009.78,1059.88 L1013.26,1058.90 L1016.81,1057.92 L1020.37,1056.93 L1023.88,1055.95 L1027.29,1054.97 L1030.55,1053.99 L1033.62,1053.01 L1036.45,1052.03 L1039.03,1051.05 L1041.33,1050.06 L1043.34,1049.08 L1045.05,1048.10 L1046.46,1047.12 L1047.56,1046.14 L1048.36,1045.16 L1048.87,1044.17 L1049.09,1043.19 L1049.04,1042.21 L1048.74,1041.23 L1048.19,1040.25 L1047.42,1039.27 L1046.44,1038.29 L1045.28,1037.30 L1043.96,1036.32 L1042.51,1035.34 L1040.95,1034.36 L1039.32,1033.38 L1037.65,1032.40 L1035.98,1031.42 L1034.33,1030.43 L1032.75,1029.45 L1031.28,1028.47 L1029.94,1027.49 L1028.76,1026.51 L1027.79,1025.53 L1027.03,1024.54 L1026.51,1023.56 L1026.24,1022.58 L1026.23,1021.60 L1026.48,1020.62 L1026.98,1019.64 L1027.72,1018.66 L1028.69,1017.67 L1029.86,1016.69 L1031.21,1015.71 L1032.70,1014.73 L1034.31,1013.75 L1036.00,1012.77 L1037.74,1011.79 L1039.50,1010.80 L1041.25,1009.82 L1042.96,1008.84 L1044.61,1007.86 L1046.18,1006.88 L1047.65,1005.90 L1049.02,1004.91 L1050.26,1003.93 L1051.38,1002.95 L1052.37,1001.97 L1053.24,1000.99 L1053.98,1000.01 L1054.60,999.03 L1055.10,998.04 L1055.49,997.06 L1055.78,996.08 L1055.98,995.10 L1056.09,994.12 L1056.13,993.14 L1056.09,992.16 L1056.00,991.17 L1055.85,990.19 L1055.66,989.21 L1055.43,988.23 L1055.18,987.25 L1054.91,986.27 L1054.62,985.28 L1054.34,984.30 L1054.06,983.32 L1053.79,982.34 L1053.54,981.36 L1053.32,980.38 L1053.14,979.40 L1052.99,978.41 L1052.88,977.43 L1052.82,976.45 L1052.80,975.47 L1052.83,974.49 L1052.91,973.51 L1053.03,972.53 L1053.20,971.54 L1053.40,970.56 L1053.64,969.58 L1053.91,968.60 L1054.20,967.62 L1054.51,966.64 L1054.83,965.65 L1055.15,964.67 L1055.48,963.69 L1055.80,962.71 L1056.11,961.73 L1056.41,960.75 L1056.69,959.77 L1056.95,958.78 L1057.20,957.80 L1057.42,956.82 L1057.62,955.84 L1057.80,954.86 L1057.96,953.88 L1058.10,952.90 L1058.22,951.91 L1058.32,950.93 L1058.41,949.95 L1058.49,948.97 L1058.55,947.99 L1058.60,947.01 L1058.64,946.02 L1058.68,945.04 L1058.70,944.06 L1058.73,943.08 L1058.74,942.10 L1058.86,942.10 L1058.87,943.08 L1058.90,944.06 L1058.92,945.04 L1058.96,946.02 L1059.00,947.01 L1059.05,947.99 L1059.11,948.97 L1059.19,949.95 L1059.28,950.93 L1059.38,951.91 L1059.50,952.90 L1059.64,953.88 L1059.80,954.86 L1059.98,955.84 L1060.18,956.82 L1060.40,957.80 L1060.65,958.78 L1060.91,959.77 L1061.19,960.75 L1061.49,961.73 L1061.80,962.71 L1062.12,963.69 L1062.45,964.67 L1062.77,965.65 L1063.09,966.64 L1063.40,967.62 L1063.69,968.60 L1063.96,969.58 L1064.20,970.56 L1064.40,971.54 L1064.57,972.53 L1064.69,973.51 L1064.77,974.49 L1064.80,975.47 L1064.78,976.45 L1064.72,977.43 L1064.61,978.41 L1064.46,979.40 L1064.28,980.38 L1064.06,981.36 L1063.81,982.34 L1063.54,983.32 L1063.26,984.30 L1062.98,985.28 L1062.69,986.27 L1062.42,987.25 L1062.17,988.23 L1061.94,989.21 L1061.75,990.19 L1061.60,991.17 L1061.51,992.16 L1061.47,993.14 L1061.51,994.12 L1061.62,995.10 L1061.82,996.08 L1062.11,997.06 L1062.50,998.04 L1063.00,999.03 L1063.62,1000.01 L1064.36,1000.99 L1065.23,1001.97 L1066.22,1002.95 L1067.34,1003.93 L1068.58,1004.91 L1069.95,1005.90 L1071.42,1006.88 L1072.99,1007.86 L1074.64,1008.84 L1076.35,1009.82 L1078.10,1010.80 L1079.86,1011.79 L1081.60,1012.77 L1083.29,1013.75 L1084.90,1014.73 L1086.39,1015.71 L1087.74,1016.69 L1088.91,1017.67 L1089.88,1018.66 L1090.62,1019.64 L1091.12,1020.62 L1091.37,1021.60 L1091.36,1022.58 L1091.09,1023.56 L1090.57,1024.54 L1089.81,1025.53 L1088.84,1026.51 L1087.66,1027.49 L1086.32,1028.47 L1084.85,1029.45 L1083.27,1030.43 L1081.62,1031.42 L1079.95,1032.40 L1078.28,1033.38 L1076.65,1034.36 L1075.09,1035.34 L1073.64,1036.32 L1072.32,1037.30 L1071.16,1038.29 L1070.18,1039.27 L1069.41,1040.25 L1068.86,1041.23 L1068.56,1042.21 L1068.51,1043.19 L1068.73,1044.17 L1069.24,1045.16 L1070.04,1046.14 L1071.14,1047.12 L1072.55,1048.10 L1074.26,1049.08 L1076.27,1050.06 L1078.57,1051.05 L1081.15,1052.03 L1083.98,1053.01 L1087.05,1053.99 L1090.31,1054.97 L1093.72,1055.95 L1097.23,1056.93 L1100.79,1057.92 L1104.34,1058.90 L1107.82,1059.88 L1111.15,1060.86 L1114.27,1061.84 L1117.11,1062.82 L1119.62,1063.80 L1121.72,1064.79 L1123.39,1065.77 L1124.57,1066.75 L1125.24,1067.73 L1125.39,1068.71 L1125.00,1069.69 L1124.09,1070.68 L1122.69,1071.66 L1120.83,1072.64 L1118.54,1073.62 L1115.90,1074.60 L1112.95,1075.58 L1109.77,1076.56 L1106.43,1077.55 L1103.00,1078.53 L1099.55,1079.51 L1096.15,1080.49 L1092.86,1081.47 L1089.76,1082.45 L1086.89,1083.43 L1084.31,1084.42 L1082.07,1085.40 L1080.20,1086.38 L1078.74,1087.36 L1077.73,1088.34 L1077.19,1089.32 L1077.15,1090.31 L1077.62,1091.29 L1078.63,1092.27 L1080.17,1093.25 L1082.27,1094.23 L1084.91,1095.21 L1088.09,1096.19 L1091.80,1097.18 L1096.01,1098.16 L1100.69,1099.14 L1105.79,1100.12 L1111.25,1101.10 L1117.01,1102.08 L1122.97,1103.06 L1129.06,1104.05 L1135.16,1105.03 L1141.17,1106.01 L1146.98,1106.99 L1152.45,1107.97 L1157.50,1108.95 L1161.99,1109.94 L1165.83,1110.92 L1168.94,1111.90 L1171.23,1112.88 L1172.67,1113.86 L1173.20,1114.84 L1172.82,1115.82 L1171.53,1116.81 L1169.38,1117.79 L1166.41,1118.77 L1162.70,1119.75 L1158.33,1120.73 L1153.40,1121.71 L1148.02,1122.69 L1142.32,1123.68 L1136.41,1124.66 L1130.42,1125.64 L1124.45,1126.62 L1118.63,1127.60 L1113.05,1128.58 L1107.81,1129.57 L1103.00,1130.55 L1098.68,1131.53 L1094.92,1132.51 L1091.78,1133.49 L1089.30,1134.47 L1087.52,1135.45 L1086.46,1136.44 L1086.16,1137.42 L1086.61,1138.40 L1087.84,1139.38 L1089.85,1140.36 L1092.63,1141.34 L1096.17,1142.32 L1100.44,1143.31 L1105.40,1144.29 L1111.02,1145.27 L1117.24,1146.25 L1123.97,1147.23 L1131.13,1148.21 L1138.61,1149.20 L1146.30,1150.18 L1154.06,1151.16 L1161.77,1152.14 L1169.26,1153.12 L1176.39,1154.10 L1183.01,1155.08 L1188.98,1156.07 L1194.16,1157.05 L1198.43,1158.03 L1201.69,1159.01 L1203.87,1159.99 L1204.91,1160.97 L1204.78,1161.95 L1203.50,1162.94 L1201.08,1163.92 L1197.59,1164.90 L1193.11,1165.88 L1187.75,1166.86 L1181.62,1167.84 L1174.87,1168.83 L1167.63,1169.81 L1160.05,1170.79 L1152.29,1171.77 L1144.49,1172.75 L1136.77,1173.73 L1129.28,1174.71 L1122.11,1175.70 L1115.36,1176.68 L1109.12,1177.66 L1103.46,1178.64 L1098.41,1179.62 L1094.02,1180.60 L1090.32,1181.58 L1087.32,1182.57 L1085.01,1183.55 L1083.41,1184.53 L1082.49,1185.51 L1082.24,1186.49 L1082.64,1187.47 L1083.66,1188.45 L1085.27,1189.44 L1087.42,1190.42 L1090.08,1191.40 L1093.20,1192.38 L1096.71,1193.36 L1100.56,1194.34 L1104.67,1195.33 L1108.97,1196.31 L1113.38,1197.29 L1117.81,1198.27 L1122.16,1199.25 L1126.34,1200.23 L1130.27,1201.21 L1133.86,1202.20 L1137.01,1203.18 L1139.67,1204.16 L1141.75,1205.14 L1143.22,1206.12 L1144.03,1207.10 L1144.17,1208.08 L1143.63,1209.07 L1142.42,1210.05 L1140.56,1211.03 L1138.12,1212.01 L1135.13,1212.99 L1131.68,1213.97 L1127.82,1214.96 L1123.66,1215.94 L1119.26,1216.92 L1114.72,1217.90 L1110.11,1218.88 L1105.53,1219.86 L1101.03,1220.84 L1096.68,1221.83 L1092.55,1222.81 L1088.66,1223.79 L1085.06,1224.77 L1081.77,1225.75 L1078.81,1226.73 L1076.20,1227.71 L1073.92,1228.70 L1071.98,1229.68 L1070.37,1230.66 L1069.08,1231.64 L1068.08,1232.62 L1067.37,1233.60 L1066.91,1234.59 L1066.70,1235.57 L1066.70,1236.55 L1066.89,1237.53 L1067.26,1238.51 L1067.78,1239.49 L1068.43,1240.47 L1069.18,1241.46 L1070.01,1242.44 L1070.90,1243.42 L1071.81,1244.40 L1072.74,1245.38 L1073.64,1246.36 L1074.51,1247.34 L1075.31,1248.33 L1076.03,1249.31 L1076.64,1250.29 L1077.14,1251.27 L1077.50,1252.25 L1077.73,1253.23 L1077.80,1254.22 L1077.72,1255.20 L1077.50,1256.18 L1077.13,1257.16 L1076.63,1258.14 L1076.00,1259.12 L1075.26,1260.10 L1074.43,1261.09 L1073.52,1262.07 L1072.56,1263.05 L1071.55,1264.03 L1070.53,1265.01 L1069.51,1265.99 L1068.49,1266.97 L1067.51,1267.96 L1066.57,1268.94 L1065.68,1269.92 L1064.86,1270.90 L1064.10,1271.88 L1063.41,1272.86 L1062.79,1273.85 L1062.25,1274.83 L1061.77,1275.81 L1061.37,1276.79 L1061.04,1277.77 L1060.78,1278.75 L1060.57,1279.73 L1060.42,1280.72 L1060.31,1281.70 L1060.26,1282.68 L1060.24,1283.66 L1060.27,1284.64 L1060.32,1285.62 L1060.40,1286.60 L1060.50,1287.59 L1060.62,1288.57 L1060.76,1289.55 L1060.90,1290.53 L1061.04,1291.51 L1061.19,1292.49 L1061.33,1293.48 L1061.46,1294.46 L1061.58,1295.44 L1061.68,1296.42 L1061.77,1297.40 L1061.84,1298.38 L1061.88,1299.36 L1061.90,1300.35 L1061.89,1301.33 L1061.86,1302.31 L1061.81,1303.29 L1061.74,1304.27 L1061.64,1305.25 L1061.52,1306.23 L1061.39,1307.22 L1061.25,1308.20 L1061.09,1309.18 L1060.93,1310.16 L1060.76,1311.14 L1060.60,1312.12 L1060.43,1313.11 L1060.27,1314.09 L1060.11,1315.07 L1059.96,1316.05 L1059.82,1317.03 L1059.69,1318.01 L1059.57,1318.99 L1059.46,1319.98 L1059.36,1320.96 L1059.27,1321.94 L1059.20,1322.92 L1059.13,1323.90 L1059.07,1324.88 L1059.02,1325.86 L1058.98,1326.85 L1058.94,1327.83 L1058.91,1328.81 L1058.89,1329.79 L1058.87,1330.77 L1058.86,1331.75 L1058.84,1332.74 L1058.83,1333.72Z" fill="#0066ff" stroke="#000" stroke-width="1.8" stroke-linejoin="round"/>
<path d="M1350.70,1313.47 L1350.69,1312.47 L1350.67,1311.48 L1350.65,1310.48 L1350.63,1309.49 L1350.60,1308.50 L1350.58,1307.50 L1350.55,1306.51 L1350.51,1305.51 L1350.48,1304.52 L1350.43,1303.52 L1350.39,1302.53 L1350.34,1301.53 L1350.28,1300.54 L1350.22,1299.54 L1350.16,1298.55 L1350.09,1297.55 L1350.01,1296.56 L1349.92,1295.56 L1349.83,1294.57 L1349.74,1293.57 L1349.63,1292.58 L1349.52,1291.58 L1349.41,1290.59 L1349.28,1289.59 L1349.15,1288.60 L1349.01,1287.61 L1348.86,1286.61 L1348.71,1285.62 L1348.55,1284.62 L1348.39,1283.63 L1348.21,1282.63 L1348.04,1281.64 L1347.85,1280.64 L1347.66,1279.65 L1347.47,1278.65 L1347.28,1277.66 L1347.08,1276.66 L1346.88,1275.67 L1346.67,1274.67 L1346.47,1273.68 L1346.26,1272.68 L1346.06,1271.69 L1345.86,1270.69 L1345.65,1269.70 L1345.45,1268.70 L1345.26,1267.71 L1345.06,1266.71 L1344.87,1265.72 L1344.68,1264.73 L1344.49,1263.73 L1344.31,1262.74 L1344.14,1261.74 L1343.96,1260.75 L1343.79,1259.75 L1343.62,1258.76 L1343.45,1257.76 L1343.29,1256.77 L1343.12,1255.77 L1342.95,1254.78 L1342.79,1253.78 L1342.61,1252.79 L1342.44,1251.79 L1342.25,1250.80 L1342.06,1249.80 L1341.86,1248.81 L1341.65,1247.81 L1341.43,1246.82 L1341.19,1245.82 L1340.94,1244.83 L1340.68,1243.84 L1340.39,1242.84 L1340.09,1241.85 L1339.77,1240.85 L1339.43,1239.86 L1339.07,1238.86 L1338.69,1237.87 L1338.28,1236.87 L1337.86,1235.88 L1337.42,1234.88 L1336.96,1233.89 L1336.47,1232.89 L1335.98,1231.90 L1335.46,1230.90 L1334.93,1229.91 L1334.39,1228.91 L1333.84,1227.92 L1333.28,1226.92 L1332.71,1225.93 L1332.14,1224.93 L1331.57,1223.94 L1330.99,1222.95 L1330.42,1221.95 L1329.84,1220.96 L1329.28,1219.96 L1328.71,1218.97 L1328.16,1217.97 L1327.61,1216.98 L1327.06,1215.98 L1326.53,1214.99 L1326.00,1213.99 L1325.47,1213.00 L1324.95,1212.00 L1324.43,1211.01 L1323.91,1210.01 L1323.39,1209.02 L1322.86,1208.02 L1322.31,1207.03 L1321.75,1206.03 L1321.18,1205.04 L1320.58,1204.04 L1319.94,1203.05 L1319.28,1202.06 L1318.58,1201.06 L1317.83,1200.07 L1317.04,1199.07 L1316.19,1198.08 L1315.29,1197.08 L1314.33,1196.09 L1313.31,1195.09 L1312.22,1194.10 L1311.07,1193.10 L1309.85,1192.11 L1308.56,1191.11 L1307.21,1190.12 L1305.79,1189.12 L1304.31,1188.13 L1302.78,1187.13 L1301.19,1186.14 L1299.56,1185.14 L1297.88,1184.15 L1296.18,1183.15 L1294.45,1182.16 L1292.70,1181.16 L1290.95,1180.17 L1289.21,1179.18 L1287.48,1178.18 L1285.78,1177.19 L1284.11,1176.19 L1282.49,1175.20 L1280.93,1174.20 L1279.44,1173.21 L1278.02,1172.21 L1276.70,1171.22 L1275.46,1170.22 L1274.33,1169.23 L1273.31,1168.23 L1272.40,1167.24 L1271.61,1166.24 L1270.94,1165.25 L1270.39,1164.25 L1269.96,1163.26 L1269.65,1162.26 L1269.45,1161.27 L1269.37,1160.27 L1269.39,1159.28 L1269.50,1158.29 L1269.71,1157.29 L1270.00,1156.30 L1270.35,1155.30 L1270.77,1154.31 L1271.24,1153.31 L1271.74,1152.32 L1272.26,1151.32 L1272.80,1150.33 L1273.34,1149.33 L1273.86,1148.34 L1274.37,1147.34 L1274.84,1146.35 L1275.27,1145.35 L1275.66,1144.36 L1275.98,1143.36 L1276.25,1142.37 L1276.44,1141.37 L1276.57,1140.38 L1276.63,1139.38 L1276.61,1138.39 L1276.52,1137.40 L1276.37,1136.40 L1276.15,1135.41 L1275.87,1134.41 L1275.54,1133.42 L1275.16,1132.42 L1274.75,1131.43 L1274.31,1130.43 L1273.86,1129.44 L1273.39,1128.44 L1272.94,1127.45 L1272.49,1126.45 L1272.07,1125.46 L1271.69,1124.46 L1271.35,1123.47 L1271.07,1122.47 L1270.84,1121.48 L1270.69,1120.48 L1270.61,1119.49 L1270.62,1118.49 L1270.71,1117.50 L1270.88,1116.51 L1271.15,1115.51 L1271.50,1114.52 L1271.95,1113.52 L1272.47,1112.53 L1273.08,1111.53 L1273.76,1110.54 L1274.51,1109.54 L1275.33,1108.55 L1276.19,1107.55 L1277.10,1106.56 L1278.05,1105.56 L1279.02,1104.57 L1280.01,1103.57 L1281.01,1102.58 L1282.00,1101.58 L1282.98,1100.59 L1283.93,1099.59 L1284.86,1098.60 L1285.75,1097.60 L1286.59,1096.61 L1287.38,1095.61 L1288.11,1094.62 L1288.79,1093.63 L1289.40,1092.63 L1289.95,1091.64 L1290.43,1090.64 L1290.85,1089.65 L1291.21,1088.65 L1291.51,1087.66 L1291.76,1086.66 L1291.95,1085.67 L1292.11,1084.67 L1292.23,1083.68 L1292.32,1082.68 L1292.38,1081.69 L1292.44,1080.69 L1292.48,1079.70 L1292.53,1078.70 L1292.59,1077.71 L1292.67,1076.71 L1292.78,1075.72 L1292.92,1074.72 L1293.09,1073.73 L1293.31,1072.74 L1293.58,1071.74 L1293.90,1070.75 L1294.28,1069.75 L1294.72,1068.76 L1295.21,1067.76 L1295.77,1066.77 L1296.38,1065.77 L1297.05,1064.78 L1297.78,1063.78 L1298.55,1062.79 L1299.37,1061.79 L1300.23,1060.80 L1301.13,1059.80 L1302.06,1058.81 L1303.01,1057.81 L1303.98,1056.82 L1304.96,1055.82 L1305.94,1054.83 L1306.92,1053.83 L1307.90,1052.84 L1308.85,1051.85 L1309.79,1050.85 L1310.71,1049.86 L1311.59,1048.86 L1312.44,1047.87 L1313.25,1046.87 L1314.02,1045.88 L1314.74,1044.88 L1315.43,1043.89 L1316.06,1042.89 L1316.66,1041.90 L1317.21,1040.90 L1317.72,1039.91 L1318.18,1038.91 L1318.61,1037.92 L1319.00,1036.92 L1319.36,1035.93 L1319.70,1034.93 L1320.00,1033.94 L1320.29,1032.94 L1320.56,1031.95 L1320.82,1030.96 L1321.07,1029.96 L1321.32,1028.97 L1321.57,1027.97 L1321.82,1026.98 L1322.07,1025.98 L1322.34,1024.99 L1322.61,1023.99 L1322.90,1023.00 L1323.21,1022.00 L1323.53,1021.01 L1323.86,1020.01 L1324.22,1019.02 L1324.59,1018.02 L1324.97,1017.03 L1325.37,1016.03 L1325.78,1015.04 L1326.21,1014.04 L1326.64,1013.05 L1327.07,1012.05 L1327.52,1011.06 L1327.96,1010.06 L1328.40,1009.07 L1328.84,1008.08 L1329.26,1007.08 L1329.69,1006.09 L1330.09,1005.09 L1330.49,1004.10 L1330.87,1003.10 L1331.23,1002.11 L1331.57,1001.11 L1331.89,1000.12 L1332.19,999.12 L1332.47,998.13 L1332.73,997.13 L1332.97,996.14 L1333.18,995.14 L1333.38,994.15 L1333.56,993.15 L1333.72,992.16 L1333.87,991.16 L1334.00,990.17 L1334.13,989.17 L1334.24,988.18 L1334.35,987.19 L1334.46,986.19 L1334.57,985.20 L1334.67,984.20 L1334.79,983.21 L1334.90,982.21 L1335.03,981.22 L1335.17,980.22 L1335.32,979.23 L1335.49,978.23 L1335.67,977.24 L1335.87,976.24 L1336.08,975.25 L1336.32,974.25 L1336.57,973.26 L1336.84,972.26 L1337.13,971.27 L1337.44,970.27 L1337.77,969.28 L1338.12,968.28 L1338.48,967.29 L1338.85,966.30 L1339.24,965.30 L1339.64,964.31 L1340.05,963.31 L1340.46,962.32 L1340.89,961.32 L1341.31,960.33 L1341.74,959.33 L1342.17,958.34 L1342.60,957.34 L1343.03,956.35 L1343.45,955.35 L1343.87,954.36 L1344.28,953.36 L1344.67,952.37 L1345.06,951.37 L1345.44,950.38 L1345.80,949.38 L1346.15,948.39 L1346.49,947.39 L1346.81,946.40 L1347.12,945.41 L1347.41,944.41 L1347.69,943.42 L1347.95,942.42 L1348.19,941.43 L1348.42,940.43 L1348.64,939.44 L1348.84,938.44 L1349.03,937.45 L1349.20,936.45 L1349.36,935.46 L1349.51,934.46 L1349.64,933.47 L1349.76,932.47 L1349.88,931.48 L1349.98,930.48 L1350.07,929.49 L1350.16,928.49 L1350.23,927.50 L1350.30,926.50 L1350.36,925.51 L1350.41,924.51 L1350.46,923.52 L1350.51,922.53 L1350.54,921.53 L1350.58,920.54 L1350.61,919.54 L1350.63,918.55 L1350.66,917.55 L1350.68,916.56 L1350.92,916.56 L1350.94,917.55 L1350.97,918.55 L1350.99,919.54 L1351.02,920.54 L1351.06,921.53 L1351.09,922.53 L1351.14,923.52 L1351.19,924.51 L1351.24,925.51 L1351.30,926.50 L1351.37,927.50 L1351.44,928.49 L1351.53,929.49 L1351.62,930.48 L1351.72,931.48 L1351.84,932.47 L1351.96,933.47 L1352.09,934.46 L1352.24,935.46 L1352.40,936.45 L1352.57,937.45 L1352.76,938.44 L1352.96,939.44 L1353.18,940.43 L1353.41,941.43 L1353.65,942.42 L1353.91,943.42 L1354.19,944.41 L1354.48,945.41 L1354.79,946.40 L1355.11,947.39 L1355.45,948.39 L1355.80,949.38 L1356.16,950.38 L1356.54,951.37 L1356.93,952.37 L1357.32,953.36 L1357.73,954.36 L1358.15,955.35 L1358.57,956.35 L1359.00,957.34 L1359.43,958.34 L1359.86,959.33 L1360.29,960.33 L1360.71,961.32 L1361.14,962.32 L1361.55,963.31 L1361.96,964.31 L1362.36,965.30 L1362.75,966.30 L1363.12,967.29 L1363.48,968.28 L1363.83,969.28 L1364.16,970.27 L1364.47,971.27 L1364.76,972.26 L1365.03,973.26 L1365.28,974.25 L1365.52,975.25 L1365.73,976.24 L1365.93,977.24 L1366.11,978.23 L1366.28,979.23 L1366.43,980.22 L1366.57,981.22 L1366.70,982.21 L1366.81,983.21 L1366.93,984.20 L1367.03,985.20 L1367.14,986.19 L1367.25,987.19 L1367.36,988.18 L1367.47,989.17 L1367.60,990.17 L1367.73,991.16 L1367.88,992.16 L1368.04,993.15 L1368.22,994.15 L1368.42,995.14 L1368.63,996.14 L1368.87,997.13 L1369.13,998.13 L1369.41,999.12 L1369.71,1000.12 L1370.03,1001.11 L1370.37,1002.11 L1370.73,1003.10 L1371.11,1004.10 L1371.51,1005.09 L1371.91,1006.09 L1372.34,1007.08 L1372.76,1008.08 L1373.20,1009.07 L1373.64,1010.06 L1374.08,1011.06 L1374.53,1012.05 L1374.96,1013.05 L1375.39,1014.04 L1375.82,1015.04 L1376.23,1016.03 L1376.63,1017.03 L1377.01,1018.02 L1377.38,1019.02 L1377.74,1020.01 L1378.07,1021.01 L1378.39,1022.00 L1378.70,1023.00 L1378.99,1023.99 L1379.26,1024.99 L1379.53,1025.98 L1379.78,1026.98 L1380.03,1027.97 L1380.28,1028.97 L1380.53,1029.96 L1380.78,1030.96 L1381.04,1031.95 L1381.31,1032.94 L1381.60,1033.94 L1381.90,1034.93 L1382.24,1035.93 L1382.60,1036.92 L1382.99,1037.92 L1383.42,1038.91 L1383.88,1039.91 L1384.39,1040.90 L1384.94,1041.90 L1385.54,1042.89 L1386.17,1043.89 L1386.86,1044.88 L1387.58,1045.88 L1388.35,1046.87 L1389.16,1047.87 L1390.01,1048.86 L1390.89,1049.86 L1391.81,1050.85 L1392.75,1051.85 L1393.70,1052.84 L1394.68,1053.83 L1395.66,1054.83 L1396.64,1055.82 L1397.62,1056.82 L1398.59,1057.81 L1399.54,1058.81 L1400.47,1059.80 L1401.37,1060.80 L1402.23,1061.79 L1403.05,1062.79 L1403.82,1063.78 L1404.55,1064.78 L1405.22,1065.77 L1405.83,1066.77 L1406.39,1067.76 L1406.88,1068.76 L1407.32,1069.75 L1407.70,1070.75 L1408.02,1071.74 L1408.29,1072.74 L1408.51,1073.73 L1408.68,1074.72 L1408.82,1075.72 L1408.93,1076.71 L1409.01,1077.71 L1409.07,1078.70 L1409.12,1079.70 L1409.16,1080.69 L1409.22,1081.69 L1409.28,1082.68 L1409.37,1083.68 L1409.49,1084.67 L1409.65,1085.67 L1409.84,1086.66 L1410.09,1087.66 L1410.39,1088.65 L1410.75,1089.65 L1411.17,1090.64 L1411.65,1091.64 L1412.20,1092.63 L1412.81,1093.63 L1413.49,1094.62 L1414.22,1095.61 L1415.01,1096.61 L1415.85,1097.60 L1416.74,1098.60 L1417.67,1099.59 L1418.62,1100.59 L1419.60,1101.58 L1420.59,1102.58 L1421.59,1103.57 L1422.58,1104.57 L1423.55,1105.56 L1424.50,1106.56 L1425.41,1107.55 L1426.27,1108.55 L1427.09,1109.54 L1427.84,1110.54 L1428.52,1111.53 L1429.13,1112.53 L1429.65,1113.52 L1430.10,1114.52 L1430.45,1115.51 L1430.72,1116.51 L1430.89,1117.50 L1430.98,1118.49 L1430.99,1119.49 L1430.91,1120.48 L1430.76,1121.48 L1430.53,1122.47 L1430.25,1123.47 L1429.91,1124.46 L1429.53,1125.46 L1429.11,1126.45 L1428.66,1127.45 L1428.21,1128.44 L1427.74,1129.44 L1427.29,1130.43 L1426.85,1131.43 L1426.44,1132.42 L1426.06,1133.42 L1425.73,1134.41 L1425.45,1135.41 L1425.23,1136.40 L1425.08,1137.40 L1424.99,1138.39 L1424.97,1139.38 L1425.03,1140.38 L1425.16,1141.37 L1425.35,1142.37 L1425.62,1143.36 L1425.94,1144.36 L1426.33,1145.35 L1426.76,1146.35 L1427.23,1147.34 L1427.74,1148.34 L1428.26,1149.33 L1428.80,1150.33 L1429.34,1151.32 L1429.86,1152.32 L1430.36,1153.31 L1430.83,1154.31 L1431.25,1155.30 L1431.60,1156.30 L1431.89,1157.29 L1432.10,1158.29 L1432.21,1159.28 L1432.23,1160.27 L1432.15,1161.27 L1431.95,1162.26 L1431.64,1163.26 L1431.21,1164.25 L1430.66,1165.25 L1429.99,1166.24 L1429.20,1167.24 L1428.29,1168.23 L1427.27,1169.23 L1426.14,1170.22 L1424.90,1171.22 L1423.58,1172.21 L1422.16,1173.21 L1420.67,1174.20 L1419.11,1175.20 L1417.49,1176.19 L1415.82,1177.19 L1414.12,1178.18 L1412.39,1179.18 L1410.65,1180.17 L1408.90,1181.16 L1407.15,1182.16 L1405.42,1183.15 L1403.72,1184.15 L1402.04,1185.14 L1400.41,1186.14 L1398.82,1187.13 L1397.29,1188.13 L1395.81,1189.12 L1394.39,1190.12 L1393.04,1191.11 L1391.75,1192.11 L1390.53,1193.10 L1389.38,1194.10 L1388.29,1195.09 L1387.27,1196.09 L1386.31,1197.08 L1385.41,1198.08 L1384.56,1199.07 L1383.77,1200.07 L1383.02,1201.06 L1382.32,1202.06 L1381.66,1203.05 L1381.02,1204.04 L1380.42,1205.04 L1379.85,1206.03 L1379.29,1207.03 L1378.74,1208.02 L1378.21,1209.02 L1377.69,1210.01 L1377.17,1211.01 L1376.65,1212.00 L1376.13,1213.00 L1375.60,1213.99 L1375.07,1214.99 L1374.54,1215.98 L1373.99,1216.98 L1373.44,1217.97 L1372.89,1218.97 L1372.32,1219.96 L1371.76,1220.96 L1371.18,1221.95 L1370.61,1222.95 L1370.03,1223.94 L1369.46,1224.93 L1368.89,1225.93 L1368.32,1226.92 L1367.76,1227.92 L1367.21,1228.91 L1366.67,1229.91 L1366.14,1230.90 L1365.62,1231.90 L1365.13,1232.89 L1364.64,1233.89 L1364.18,1234.88 L1363.74,1235.88 L1363.32,1236.87 L1362.91,1237.87 L1362.53,1238.86 L1362.17,1239.86 L1361.83,1240.85 L1361.51,1241.85 L1361.21,1242.84 L1360.92,1243.84 L1360.66,1244.83 L1360.41,1245.82 L1360.17,1246.82 L1359.95,1247.81 L1359.74,1248.81 L1359.54,1249.80 L1359.35,1250.80 L1359.16,1251.79 L1358.99,1252.79 L1358.81,1253.78 L1358.65,1254.78 L1358.48,1255.77 L1358.31,1256.77 L1358.15,1257.76 L1357.98,1258.76 L1357.81,1259.75 L1357.64,1260.75 L1357.46,1261.74 L1357.29,1262.74 L1357.11,1263.73 L1356.92,1264.73 L1356.73,1265.72 L1356.54,1266.71 L1356.34,1267.71 L1356.15,1268.70 L1355.95,1269.70 L1355.74,1270.69 L1355.54,1271.69 L1355.34,1272.68 L1355.13,1273.68 L1354.93,1274.67 L1354.72,1275.67 L1354.52,1276.66 L1354.32,1277.66 L1354.13,1278.65 L1353.94,1279.65 L1353.75,1280.64 L1353.56,1281.64 L1353.39,1282.63 L1353.21,1283.63 L1353.05,1284.62 L1352.89,1285.62 L1352.74,1286.61 L1352.59,1287.61 L1352.45,1288.60 L1352.32,1289.59 L1352.19,1290.59 L1352.08,1291.58 L1351.97,1292.58 L1351.86,1293.57 L1351.77,1294.57 L1351.68,1295.56 L1351.59,1296.56 L1351.51,1297.55 L1351.44,1298.55 L1351.38,1299.54 L1351.32,1300.54 L1351.26,1301.53 L1351.21,1302.53 L1351.17,1303.52 L1351.12,1304.52 L1351.09,1305.51 L1351.05,1306.51 L1351.02,1307.50 L1351.00,1308.50 L1350.97,1309.49 L1350.95,1310.48 L1350.93,1311.48 L1350.91,1312.47 L1350.90,1313.47Z" fill="#ff0000" stroke="#000" stroke-width="1.8" stroke-linejoin="round"/>
<line x1="883.20" y1="895.80" x2="883.20" y2="1355.15" stroke="#000" stroke-width="1.9" stroke-linecap="butt"/>
<line x1="882.25" y1="1354.20" x2="1526.00" y2="1354.20" stroke="#000" stroke-width="1.9" stroke-linecap="butt"/>
<line x1="877.90" y1="1347.12" x2="883.20" y2="1347.12" stroke="#000" stroke-width="1.9" stroke-linecap="butt"/>
<text transform="translate(872.20 1361.82) scale(1 1.04)" font-size="34.5" text-anchor="end" font-weight="normal">2</text>
<line x1="877.90" y1="1254.24" x2="883.20" y2="1254.24" stroke="#000" stroke-width="1.9" stroke-linecap="butt"/>
<text transform="translate(872.20 1268.94) scale(1 1.04)" font-size="34.5" text-anchor="end" font-weight="normal">4</text>
<line x1="877.90" y1="1161.36" x2="883.20" y2="1161.36" stroke="#000" stroke-width="1.9" stroke-linecap="butt"/>
<text transform="translate(872.20 1176.06) scale(1 1.04)" font-size="34.5" text-anchor="end" font-weight="normal">6</text>
<line x1="877.90" y1="1068.48" x2="883.20" y2="1068.48" stroke="#000" stroke-width="1.9" stroke-linecap="butt"/>
<text transform="translate(872.20 1083.18) scale(1 1.04)" font-size="34.5" text-anchor="end" font-weight="normal">8</text>
<line x1="877.90" y1="975.60" x2="883.20" y2="975.60" stroke="#000" stroke-width="1.9" stroke-linecap="butt"/>
<text transform="translate(872.20 990.30) scale(1 1.04)" font-size="34.5" text-anchor="end" font-weight="normal">10</text>
<line x1="1058.80" y1="1354.20" x2="1058.80" y2="1359.20" stroke="#000" stroke-width="1.9" stroke-linecap="butt"/>
<line x1="1350.80" y1="1354.20" x2="1350.80" y2="1359.20" stroke="#000" stroke-width="1.9" stroke-linecap="butt"/>
<line x1="1058.80" y1="1068.48" x2="1058.80" y2="1114.92" stroke="#000" stroke-width="1.8" stroke-linecap="butt"/>
<line x1="1058.80" y1="1161.36" x2="1058.80" y2="1207.80" stroke="#000" stroke-width="1.8" stroke-linecap="butt"/>
<rect x="1030.00" y="1114.92" width="57.60" height="46.44" fill="#fff" stroke="#000" stroke-width="1.8"/>
<line x1="1030.00" y1="1161.36" x2="1087.60" y2="1161.36" stroke="#000" stroke-width="3.2" stroke-linecap="butt"/>
<circle cx="1058.80" cy="975.60" r="3.8" fill="#000"/>
<circle cx="1058.80" cy="1022.04" r="3.8" fill="#000"/>
<circle cx="1058.80" cy="1254.24" r="3.8" fill="#000"/>
<circle cx="1058.80" cy="1300.68" r="3.8" fill="#000"/>
<line x1="1350.80" y1="975.60" x2="1350.80" y2="1068.48" stroke="#000" stroke-width="1.8" stroke-linecap="butt"/>
<line x1="1350.80" y1="1161.36" x2="1350.80" y2="1254.24" stroke="#000" stroke-width="1.8" stroke-linecap="butt"/>
<rect x="1322.00" y="1068.48" width="57.60" height="92.88" fill="#fff" stroke="#000" stroke-width="1.8"/>
<line x1="1322.00" y1="1114.92" x2="1379.60" y2="1114.92" stroke="#000" stroke-width="3.2" stroke-linecap="butt"/>
<path d="M1058.80,969.20 L1058.80,959.20 L1350.80,959.20 L1350.80,969.20" fill="none" stroke="#000" stroke-width="1.3"/>
<text transform="translate(1209.80 954.00) scale(1 1.04)" font-size="33.5" text-anchor="middle" font-weight="normal">0.0011</text>
<text transform="translate(771.30 823.00) scale(1 1.01)" font-size="34" text-anchor="start" font-weight="bold">D</text>
<text transform="translate(970.50 851.10) scale(1 1.04)" font-size="33.8" text-anchor="start" font-weight="normal">m6Ascore</text>
<text transform="translate(1184.00 847.50) scale(1 1.04)" font-size="28" text-anchor="start" font-weight="normal">Low</text>
<text transform="translate(1345.00 847.50) scale(1 1.04)" font-size="28" text-anchor="start" font-weight="normal">High</text>
<text transform="translate(1060.50 1389.50) scale(1 1.04)" font-size="33.5" text-anchor="middle" font-weight="normal">Low</text>
<text transform="translate(1349.50 1392.80) scale(1 1.04)" font-size="33.5" text-anchor="middle" font-weight="normal">High</text>
<text transform="translate(1203.50 1441.00) scale(1 1.02)" font-size="39.5" text-anchor="middle" font-weight="normal">m6Ascore</text>
<text transform="translate(828.80 1130.70) rotate(-90)" font-size="33.9" text-anchor="middle" font-weight="normal">ips_ctla4_pos_pd1_pos</text>
<rect x="1146.00" y="822.00" width="27.00" height="26.50" fill="#0066ff" stroke="#000" stroke-width="1.8"/>
<rect x="1302.50" y="824.00" width="27.00" height="26.50" fill="#ff0000" stroke="#000" stroke-width="1.8"/>
</svg>
</body></html>
